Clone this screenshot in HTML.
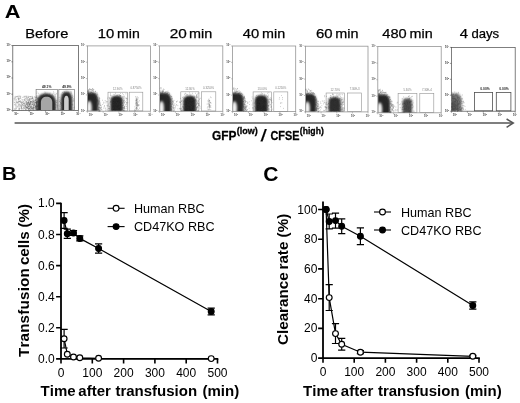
<!DOCTYPE html>
<html><head><meta charset="utf-8"><title>Figure</title>
<style>
html,body{margin:0;padding:0;background:#fff;}
body{width:520px;height:403px;overflow:hidden;}
svg{display:block;}
.s{font-family:"Liberation Sans",sans-serif;font-kerning:none;}
</style></head><body>
<svg width="520" height="403" viewBox="0 0 520 403">
<defs>
<clipPath id="cp0"><rect x="13.2" y="45.6" width="65.6" height="64.4"/></clipPath><clipPath id="cp1"><rect x="87.8" y="45.9" width="63" height="64.9"/></clipPath><clipPath id="cp2"><rect x="160" y="45.9" width="63.2" height="65"/></clipPath><clipPath id="cp3"><rect x="233" y="46" width="63.1" height="65.2"/></clipPath><clipPath id="cp4"><rect x="305.9" y="46.2" width="62.5" height="65.3"/></clipPath><clipPath id="cp5"><rect x="378.2" y="46.5" width="63.4" height="65.9"/></clipPath><clipPath id="cp6"><rect x="451.8" y="47.4" width="63.8" height="63.4"/></clipPath>
<filter id="b1" x="-5%" y="-5%" width="110%" height="110%"><feGaussianBlur stdDeviation="0.3"/></filter>
<filter id="b2" x="-20%" y="-20%" width="140%" height="140%"><feGaussianBlur stdDeviation="0.7"/></filter>
<filter id="b3" x="-30%" y="-30%" width="160%" height="160%"><feGaussianBlur stdDeviation="0.9"/></filter>
<filter id="b4" x="-50%" y="-50%" width="200%" height="200%"><feGaussianBlur stdDeviation="1.15"/></filter>
</defs>
<rect width="520" height="403" fill="#fff"/>
<g id="panelA">
<text x="4.86" y="17.8" font-size="18.4" font-weight="700" class="s" textLength="15.72" lengthAdjust="spacingAndGlyphs">A</text>
<text y="37.5" font-size="13.2" class="s" stroke="#000" stroke-width=".25"><tspan x="25.3" textLength="43.05" lengthAdjust="spacingAndGlyphs">Before</tspan></text>
<text y="37.5" font-size="13.2" class="s" stroke="#000" stroke-width=".25"><tspan x="97.77" textLength="16.51" lengthAdjust="spacingAndGlyphs">10</tspan><tspan x="117.07" textLength="22.65" lengthAdjust="spacingAndGlyphs">min</tspan></text>
<text y="37.5" font-size="13.2" class="s" stroke="#000" stroke-width=".25"><tspan x="169.73" textLength="17.07" lengthAdjust="spacingAndGlyphs">20</tspan><tspan x="189.04" textLength="23.19" lengthAdjust="spacingAndGlyphs">min</tspan></text>
<text y="37.5" font-size="13.2" class="s" stroke="#000" stroke-width=".25"><tspan x="242.86" textLength="16.42" lengthAdjust="spacingAndGlyphs">40</tspan><tspan x="262.05" textLength="23.08" lengthAdjust="spacingAndGlyphs">min</tspan></text>
<text y="37.5" font-size="13.2" class="s" stroke="#000" stroke-width=".25"><tspan x="315.94" textLength="16.64" lengthAdjust="spacingAndGlyphs">60</tspan><tspan x="335.24" textLength="23.19" lengthAdjust="spacingAndGlyphs">min</tspan></text>
<text y="37.5" font-size="13.2" class="s" stroke="#000" stroke-width=".25"><tspan x="382.26" textLength="24.41" lengthAdjust="spacingAndGlyphs">480</tspan><tspan x="409.55" textLength="23.08" lengthAdjust="spacingAndGlyphs">min</tspan></text>
<text y="37.5" font-size="13.2" class="s" stroke="#000" stroke-width=".25"><tspan x="459.66" textLength="8.28" lengthAdjust="spacingAndGlyphs">4</tspan><tspan x="471.45" textLength="27.73" lengthAdjust="spacingAndGlyphs">days</tspan></text>
<rect x="12.8" y="45.6" width="65.6" height="64.8" fill="none" stroke="#505050" stroke-width=".75"/>
<g font-size="2.7" font-weight="700" class="s" fill="#333" text-anchor="middle" filter="url(#b1)"><text x="8.5" y="46">10<tspan dy="-1" font-size="2">4</tspan></text><text x="8.5" y="62.2">10<tspan dy="-1" font-size="2">3</tspan></text><text x="8.5" y="78.4">10<tspan dy="-1" font-size="2">2</tspan></text><text x="8.5" y="94.6">10<tspan dy="-1" font-size="2">1</tspan></text><text x="8.5" y="110.8">10<tspan dy="-1" font-size="2">0</tspan></text><text x="16.2" y="115">10<tspan dy="-1" font-size="2">0</tspan></text><text x="31.7" y="115">10<tspan dy="-1" font-size="2">1</tspan></text><text x="47.2" y="115">10<tspan dy="-1" font-size="2">2</tspan></text><text x="62.7" y="115">10<tspan dy="-1" font-size="2">3</tspan></text><text x="78.2" y="115">10<tspan dy="-1" font-size="2">4</tspan></text></g>
<path d="M12.8 45.6h-1.5M12.8 110.4v1.5M12.8 61.8h-1.5M29.2 110.4v1.5M12.8 78h-1.5M45.6 110.4v1.5M12.8 94.2h-1.5M62 110.4v1.5M12.8 110.4h-1.5M78.4 110.4v1.5" stroke="#505050" stroke-width=".6" fill="none"/>
<rect x="87.4" y="45.9" width="63" height="65.3" fill="none" stroke="#949494" stroke-width=".8"/>
<g font-size="2.7" font-weight="700" class="s" fill="#4a4a4a" text-anchor="middle" filter="url(#b1)"><text x="83.1" y="46.3">10<tspan dy="-1" font-size="2">4</tspan></text><text x="83.1" y="62.6">10<tspan dy="-1" font-size="2">3</tspan></text><text x="83.1" y="79">10<tspan dy="-1" font-size="2">2</tspan></text><text x="83.1" y="95.3">10<tspan dy="-1" font-size="2">1</tspan></text><text x="83.1" y="111.6">10<tspan dy="-1" font-size="2">0</tspan></text><text x="90.8" y="115.8">10<tspan dy="-1" font-size="2">0</tspan></text><text x="105.7" y="115.8">10<tspan dy="-1" font-size="2">1</tspan></text><text x="120.5" y="115.8">10<tspan dy="-1" font-size="2">2</tspan></text><text x="135.4" y="115.8">10<tspan dy="-1" font-size="2">3</tspan></text><text x="150.2" y="115.8">10<tspan dy="-1" font-size="2">4</tspan></text></g>
<path d="M87.4 45.9h-1.5M87.4 111.2v1.5M87.4 62.2h-1.5M103.2 111.2v1.5M87.4 78.6h-1.5M118.9 111.2v1.5M87.4 94.9h-1.5M134.7 111.2v1.5M87.4 111.2h-1.5M150.4 111.2v1.5" stroke="#949494" stroke-width=".6" fill="none"/>
<rect x="159.6" y="45.9" width="63.2" height="65.4" fill="none" stroke="#949494" stroke-width=".8"/>
<g font-size="2.7" font-weight="700" class="s" fill="#4a4a4a" text-anchor="middle" filter="url(#b1)"><text x="155.3" y="46.3">10<tspan dy="-1" font-size="2">4</tspan></text><text x="155.3" y="62.6">10<tspan dy="-1" font-size="2">3</tspan></text><text x="155.3" y="79">10<tspan dy="-1" font-size="2">2</tspan></text><text x="155.3" y="95.4">10<tspan dy="-1" font-size="2">1</tspan></text><text x="155.3" y="111.7">10<tspan dy="-1" font-size="2">0</tspan></text><text x="163" y="115.9">10<tspan dy="-1" font-size="2">0</tspan></text><text x="177.9" y="115.9">10<tspan dy="-1" font-size="2">1</tspan></text><text x="192.8" y="115.9">10<tspan dy="-1" font-size="2">2</tspan></text><text x="207.7" y="115.9">10<tspan dy="-1" font-size="2">3</tspan></text><text x="222.6" y="115.9">10<tspan dy="-1" font-size="2">4</tspan></text></g>
<path d="M159.6 45.9h-1.5M159.6 111.3v1.5M159.6 62.2h-1.5M175.4 111.3v1.5M159.6 78.6h-1.5M191.2 111.3v1.5M159.6 95h-1.5M207 111.3v1.5M159.6 111.3h-1.5M222.8 111.3v1.5" stroke="#949494" stroke-width=".6" fill="none"/>
<rect x="232.6" y="46" width="63.1" height="65.6" fill="none" stroke="#949494" stroke-width=".8"/>
<g font-size="2.7" font-weight="700" class="s" fill="#4a4a4a" text-anchor="middle" filter="url(#b1)"><text x="228.3" y="46.4">10<tspan dy="-1" font-size="2">4</tspan></text><text x="228.3" y="62.8">10<tspan dy="-1" font-size="2">3</tspan></text><text x="228.3" y="79.2">10<tspan dy="-1" font-size="2">2</tspan></text><text x="228.3" y="95.6">10<tspan dy="-1" font-size="2">1</tspan></text><text x="228.3" y="112">10<tspan dy="-1" font-size="2">0</tspan></text><text x="236" y="116.2">10<tspan dy="-1" font-size="2">0</tspan></text><text x="250.9" y="116.2">10<tspan dy="-1" font-size="2">1</tspan></text><text x="265.8" y="116.2">10<tspan dy="-1" font-size="2">2</tspan></text><text x="280.6" y="116.2">10<tspan dy="-1" font-size="2">3</tspan></text><text x="295.5" y="116.2">10<tspan dy="-1" font-size="2">4</tspan></text></g>
<path d="M232.6 46h-1.5M232.6 111.6v1.5M232.6 62.4h-1.5M248.4 111.6v1.5M232.6 78.8h-1.5M264.1 111.6v1.5M232.6 95.2h-1.5M279.9 111.6v1.5M232.6 111.6h-1.5M295.7 111.6v1.5" stroke="#949494" stroke-width=".6" fill="none"/>
<rect x="305.5" y="46.2" width="62.5" height="65.7" fill="none" stroke="#949494" stroke-width=".8"/>
<g font-size="2.7" font-weight="700" class="s" fill="#4a4a4a" text-anchor="middle" filter="url(#b1)"><text x="301.2" y="46.6">10<tspan dy="-1" font-size="2">4</tspan></text><text x="301.2" y="63">10<tspan dy="-1" font-size="2">3</tspan></text><text x="301.2" y="79.5">10<tspan dy="-1" font-size="2">2</tspan></text><text x="301.2" y="95.9">10<tspan dy="-1" font-size="2">1</tspan></text><text x="301.2" y="112.3">10<tspan dy="-1" font-size="2">0</tspan></text><text x="308.9" y="116.5">10<tspan dy="-1" font-size="2">0</tspan></text><text x="323.6" y="116.5">10<tspan dy="-1" font-size="2">1</tspan></text><text x="338.3" y="116.5">10<tspan dy="-1" font-size="2">2</tspan></text><text x="353.1" y="116.5">10<tspan dy="-1" font-size="2">3</tspan></text><text x="367.8" y="116.5">10<tspan dy="-1" font-size="2">4</tspan></text></g>
<path d="M305.5 46.2h-1.5M305.5 111.9v1.5M305.5 62.6h-1.5M321.1 111.9v1.5M305.5 79.1h-1.5M336.8 111.9v1.5M305.5 95.5h-1.5M352.4 111.9v1.5M305.5 111.9h-1.5M368 111.9v1.5" stroke="#949494" stroke-width=".6" fill="none"/>
<rect x="377.8" y="46.5" width="63.4" height="66.3" fill="none" stroke="#949494" stroke-width=".8"/>
<g font-size="2.7" font-weight="700" class="s" fill="#4a4a4a" text-anchor="middle" filter="url(#b1)"><text x="373.5" y="46.9">10<tspan dy="-1" font-size="2">4</tspan></text><text x="373.5" y="63.5">10<tspan dy="-1" font-size="2">3</tspan></text><text x="373.5" y="80">10<tspan dy="-1" font-size="2">2</tspan></text><text x="373.5" y="96.6">10<tspan dy="-1" font-size="2">1</tspan></text><text x="373.5" y="113.2">10<tspan dy="-1" font-size="2">0</tspan></text><text x="381.2" y="117.4">10<tspan dy="-1" font-size="2">0</tspan></text><text x="396.1" y="117.4">10<tspan dy="-1" font-size="2">1</tspan></text><text x="411.1" y="117.4">10<tspan dy="-1" font-size="2">2</tspan></text><text x="426" y="117.4">10<tspan dy="-1" font-size="2">3</tspan></text><text x="441" y="117.4">10<tspan dy="-1" font-size="2">4</tspan></text></g>
<path d="M377.8 46.5h-1.5M377.8 112.8v1.5M377.8 63.1h-1.5M393.6 112.8v1.5M377.8 79.7h-1.5M409.5 112.8v1.5M377.8 96.2h-1.5M425.4 112.8v1.5M377.8 112.8h-1.5M441.2 112.8v1.5" stroke="#949494" stroke-width=".6" fill="none"/>
<rect x="451.4" y="47.4" width="63.8" height="63.8" fill="none" stroke="#555" stroke-width=".75"/>
<g font-size="2.7" font-weight="700" class="s" fill="#333" text-anchor="middle" filter="url(#b1)"><text x="447.1" y="47.8">10<tspan dy="-1" font-size="2">4</tspan></text><text x="447.1" y="63.8">10<tspan dy="-1" font-size="2">3</tspan></text><text x="447.1" y="79.7">10<tspan dy="-1" font-size="2">2</tspan></text><text x="447.1" y="95.6">10<tspan dy="-1" font-size="2">1</tspan></text><text x="447.1" y="111.6">10<tspan dy="-1" font-size="2">0</tspan></text><text x="454.8" y="115.8">10<tspan dy="-1" font-size="2">0</tspan></text><text x="469.8" y="115.8">10<tspan dy="-1" font-size="2">1</tspan></text><text x="484.9" y="115.8">10<tspan dy="-1" font-size="2">2</tspan></text><text x="499.9" y="115.8">10<tspan dy="-1" font-size="2">3</tspan></text><text x="515" y="115.8">10<tspan dy="-1" font-size="2">4</tspan></text></g>
<path d="M451.4 47.4h-1.5M451.4 111.2v1.5M451.4 63.4h-1.5M467.4 111.2v1.5M451.4 79.3h-1.5M483.3 111.2v1.5M451.4 95.2h-1.5M499.2 111.2v1.5M451.4 111.2h-1.5M515.2 111.2v1.5" stroke="#555" stroke-width=".6" fill="none"/>
<g filter="url(#b1)">
<rect x="36.1" y="89.5" width="21.3" height="20.7" fill="none" stroke="#7c7c7c" stroke-width=".7"/>
<rect x="58.8" y="89.5" width="15.7" height="20.7" fill="none" stroke="#7c7c7c" stroke-width=".7"/>
<path d="M24.2 103.8h.6M35.2 102.5h.6M25.5 104.2h.6M17.9 103.2h.6M28.3 107.1h.6M15.8 100.2h.6M15.7 107.3h.6M29.8 96.6h.6M36.6 109.5h.6M28.9 104.6h.6M17.3 96.2h.6M26 96.8h.6M18.1 99.4h.6M14.3 102.5h.6M23.9 107.8h.6M25.7 105h.6M25.3 105.3h.6M24.3 99.9h.6M36.9 109.9h.6M33.3 105.9h.6M21 99.2h.6M20.4 97h.6M31.5 101.6h.6M33.4 101.4h.6M36 107.9h.6M13.6 98.9h.6M34.9 102.6h.6M36.5 101.6h.6M15.3 104.8h.6M31.8 99.8h.6M15.6 100.7h.6M36.2 106.6h.6M16.4 99.4h.6M16 96.8h.6M32.3 98.5h.6M26.7 102.3h.6M18.1 106.2h.6M16.7 105h.6M16.3 101.9h.6M18.6 99.8h.6M36.3 107.2h.6M20.7 108.4h.6M18.5 101.5h.6M33.6 105h.6M15.9 109.9h.6M18.6 99.6h.6M31.7 100.6h.6M20.5 97h.6M15.7 104.2h.6M19.3 104.4h.6M22.3 102.3h.6M36 102.8h.6M27 108.1h.6M17.9 98.2h.6M34.9 107.4h.6M19.4 98.7h.6M30.9 109.2h.6M18.2 109.3h.6M34.2 104.4h.6M23.5 97.5h.6M14.5 109.5h.6M19.2 105.9h.6M19.6 107.5h.6M27.6 100.1h.6M17.7 106.1h.6M15.2 99.2h.6M26.7 107.9h.6M28 99.9h.6M35.1 98.9h.6M14 99.8h.6M24 96.8h.6M17.7 101.2h.6M27 97.8h.6M22.1 108.5h.6M36.5 105.2h.6M29.8 104.2h.6M16.9 96.5h.6M14 108.7h.6M30 109.5h.6M14.1 104.9h.6M24.9 106.2h.6M21.1 110h.6M15.4 103.6h.6M30.8 108.6h.6M30.8 105.9h.6M32.2 108.8h.6M21.8 105.6h.6M34.7 108.2h.6M23.4 107.1h.6M33.8 104h.6M28.2 101.4h.6M27.2 104.5h.6M15.5 105h.6M36.8 108.3h.6M30.6 101.4h.6M30.8 104.1h.6M23.9 107.7h.6M15.6 106.5h.6M14.3 104.4h.6M24.9 99.2h.6M29.9 103h.6M28 108.9h.6M19.6 96.2h.6M20.6 105.5h.6M18.3 98.4h.6M34.8 105.2h.6M23.9 108.5h.6M21.3 105.3h.6M18.2 102h.6M32.5 108.8h.6M34.2 101.4h.6M27.2 100.4h.6M16.8 103h.6M33.2 107.9h.6M30.2 109.3h.6M20.1 98.4h.6M24.1 99.9h.6M18.6 101.8h.6M28.2 102.9h.6M21 107.7h.6M36.6 102.3h.6M15.3 96.4h.6M34 96.6h.6M30.2 104h.6M20.8 107.1h.6M14 97.9h.6M24.2 96.3h.6M33 99.3h.6M16.9 96.7h.6M28.3 102.3h.6M28.3 105.2h.6M32.5 109.4h.6M29.6 98.8h.6M24.7 98.5h.6M13.9 102.6h.6M30.3 98.5h.6M20 100.8h.6M29.9 103.3h.6M28 106.6h.6M22.8 107.1h.6M34.8 97.2h.6M35.4 106.1h.6M16.6 102.3h.6M28.2 108.7h.6M22.4 104h.6M34.2 107.2h.6M35.7 102.5h.6M28.8 98.9h.6M30.5 107.5h.6M28.6 106h.6M18.6 108.6h.6M36.5 109.7h.6M26.2 107.1h.6M21.1 108.7h.6M33.6 100.9h.6M15.5 102.2h.6M26.5 106.8h.6M25 96.4h.6M32.5 96.9h.6M32.3 98.4h.6M21.4 107h.6M16.9 98.1h.6M25.7 106.1h.6M33.3 105.7h.6M35.7 102.9h.6M35.8 97.2h.6M18.8 103.4h.6M20.4 106.2h.6M28.5 103.3h.6M33.3 103.8h.6M20.9 101.3h.6M33.4 108.6h.6M18.5 107.9h.6M36.3 103.3h.6M27 98.8h.6M26.1 103h.6M27.8 96.4h.6M36.3 103.2h.6M23 107.2h.6M26.8 102.9h.6M29.8 96.9h.6M26.2 101.8h.6M36 108.9h.6M19.9 102.6h.6M16.6 102.1h.6M32.7 108.6h.6M24.8 100.4h.6M18.1 104.7h.6M35.3 97.8h.6M31.8 96.3h.6M18.1 99.2h.6M29.7 100.5h.6M21.9 104.7h.6M16.1 106.2h.6M16.5 103.1h.6M19.5 98.8h.6M26 102.1h.6M22.4 101.8h.6M26 98.2h.6M18.4 104.8h.6M28.5 103.4h.6M33.5 104.6h.6M33.6 99.3h.6M30.9 107.3h.6M34.7 100.4h.6M21 108.9h.6M18.7 110h.6M34.4 97.9h.6M19.2 106.2h.6M19.7 97.4h.6M33.1 101.9h.6M32.1 97.8h.6M23 105.6h.6M14 98.8h.6M29.6 108.8h.6M36.3 97.6h.6M25.4 106.6h.6M25.4 105.6h.6M18 97h.6M16.1 96.5h.6M26.5 103.2h.6M26.9 98.1h.6M17.9 98.9h.6M33.3 109.9h.6M35.3 97.3h.6M15 109.3h.6M24.4 106.7h.6M21.2 102.5h.6M25.7 102h.6M27.7 96.2h.6M30 107.8h.6M17.8 102.4h.6M30.9 101.7h.6M18.2 98.3h.6M25.6 96.2h.6M34.5 107.2h.6M30.1 108.1h.6M28.3 101.7h.6M27.6 103.1h.6M36.6 107.3h.6M19.6 108.8h.6M31 106.9h.6M32.7 101.7h.6M34.6 108.3h.6M29.9 106.7h.6M31.5 101.7h.6M30.5 97h.6M21.6 102.6h.6M13.8 101h.6M28.5 104.7h.6M19 109.2h.6M29.2 100.7h.6M29 104h.6M26.1 101.5h.6M37 105h.6M30 106.7h.6M36.5 96.3h.6M28 106.3h.6M19.6 101.6h.6M14.8 98.7h.6M22.4 97.4h.6M19.5 108.7h.6M26.5 103.1h.6M36.2 104h.6M36.9 104.9h.6M32.5 97.1h.6M27.6 106.6h.6M14.7 109h.6M17.3 102.6h.6M17.6 102.9h.6M27.9 96.8h.6M35.7 101.9h.6M25.9 104.4h.6M22.2 100h.6M28.9 103.8h.6M20.2 106h.6M20.5 96.2h.6M19.3 96.6h.6M17.3 106.6h.6M22.7 108.6h.6M31.1 96.7h.6M36.7 109.2h.6M15.3 108.7h.6M23.7 102.7h.6M36.4 99.4h.6M25.8 109.1h.6M30.5 102.6h.6M36.5 107.4h.6M27.7 97.6h.6M28.2 102.4h.6M18.4 96.7h.6M26 97.7h.6M24 105.4h.6M24.3 99.7h.6M27.2 101.9h.6M31.8 103.4h.6M36.9 109.3h.6M30.8 99.3h.6M16.3 108.5h.6M32 104.7h.6M22 99.8h.6M29.6 103.9h.6M27.4 104.9h.6M31.2 98.7h.6M19.4 109.7h.6M35 108.3h.6M14.5 96.9h.6M19.9 102h.6M28.2 97.4h.6M26.3 97h.6M15.6 105.5h.6M26.5 104.8h.6M22.3 102.7h.6M18.5 100.8h.6M31 107.7h.6M15.3 97.7h.6M32.5 104.7h.6M31.6 99h.6M23.5 99.6h.6M32.6 101.2h.6M28.9 109.8h.6M21.2 103.7h.6M31.1 108.9h.6M23.6 101.2h.6M15.9 108.3h.6M15.4 97.2h.6M26.8 102.8h.6M29.6 100.2h.6M31.7 97.1h.6M18.6 105.3h.6M35.4 106.7h.6M29.6 98.9h.6M30.3 107.2h.6M29 106.5h.6M29 100h.6M36.5 102.8h.6M32.7 101.8h.6M28.5 108.7h.6M31.1 108.8h.6M27.2 107.8h.6M26.3 107.4h.6M33.6 109.8h.6M33.2 100.2h.6M35 100.6h.6M34.6 102.8h.6M23.5 103.6h.6M31.7 103.6h.6M20.9 103h.6M33.1 105.8h.6M30 96.5h.6M28.3 102.6h.6M20.9 104.1h.6M26.7 107.2h.6M23.6 105.2h.6M29.3 98.8h.6M36.3 102.9h.6M35.1 99.7h.6M37.6 99.2h.6M37.3 97.8h.6M21.7 104.1h.6M33 101h.6M28 106.1h.6M28.4 106.7h.6M32.8 109h.6M35.8 106.2h.6M37.5 108.8h.6M31.6 102.5h.6M37.1 106.7h.6M19.6 100.6h.6M33.8 105.4h.6M32.7 107.6h.6M27.5 103.4h.6M32.9 108h.6M28.1 109.7h.6M33.8 100.8h.6M35.7 103.1h.6M16.6 102.1h.6M26.8 105.3h.6M32.9 101.3h.6M23.9 104.2h.6M28.6 102.5h.6M37.8 105.3h.6M29.1 99.7h.6M32.9 107h.6M29 107.8h.6M35.9 101.5h.6M18.7 95.4h.6M30.2 109.9h.6M37.3 98.9h.6M35.1 106.6h.6M30.4 103.2h.6M24.3 105.6h.6M34.2 102.3h.6M32.5 101h.6M33.3 104.1h.6M32.9 102.6h.6M23.9 103.7h.6M29.1 108.2h.6M35.6 106.6h.6M21.7 106.3h.6M25.2 109.7h.6M35.7 107.5h.6M15.8 107.5h.6M35.2 99.9h.6M36.8 105.3h.6M29.9 102.1h.6M24.9 103.3h.6M32.2 102.4h.6M27.3 102.8h.6M25.7 108.5h.6M29.4 108.5h.6M24.1 108.7h.6M30.8 107.7h.6M30.4 101.4h.6M30.1 101.5h.6M32.2 103.4h.6M32.7 106.4h.6M26.9 99.4h.6M33.6 108.7h.6M35.2 100.4h.6M34.6 106.5h.6M32.7 106.7h.6M29.1 105.9h.6M36.6 103h.6M22.4 104.6h.6M32.2 97.6h.6M26.9 107.4h.6M30.1 105.4h.6M23.4 108.6h.6M26.6 100.4h.6M36.3 105.4h.6M26.2 109.9h.6M35.6 107.4h.6M20.4 104.6h.6M34.8 100.1h.6M37.2 102.1h.6M26.8 108.8h.6M37 109.9h.6M28.5 97.6h.6M28.2 103.1h.6M34.9 106.5h.6M22.8 102.1h.6M26.7 108.4h.6M23.6 103.6h.6M26.6 103.8h.6M34.3 100.1h.6M32.9 102.8h.6M28.7 104.5h.6M34.7 105.5h.6M28.2 102.1h.6M26.3 99.2h.6M25.1 108.6h.6M31.4 104.3h.6M33.1 109.3h.6M34.7 108.1h.6M27.6 104h.6M26.3 104.6h.6M26.1 103.5h.6M30 104.1h.6M29.4 103h.6M24.9 105.8h.6M24.5 100.7h.6M31.5 98.3h.6M37.2 98.3h.6M25.6 107.3h.6M19.1 101.5h.6M23.8 104.2h.6M19.2 108.6h.6M30.1 106.2h.6M29 96.5h.6M30.1 99.6h.6M31.1 101.6h.6M29.1 104.2h.6M35.6 108.1h.6M25 104.9h.6M26.6 104.5h.6M28.9 108.8h.6M31.2 106.5h.6M24.9 98.1h.6M21.4 108.4h.6M19.2 101.5h.6M36.3 108.5h.6M31.2 105h.6M31.2 108.4h.6M30 106.3h.6M26.5 107.3h.6M29.4 104.4h.6M28.5 109.4h.6M27 105.5h.6M34.2 103.4h.6M33.9 101.8h.6M27.4 105.4h.6M33.7 105.6h.6M30.2 101.6h.6M30.3 102.9h.6M26.3 96.1h.6M28.7 105.5h.6M31.9 108.4h.6M30 102.4h.6M32.8 107.7h.6M25.6 98.9h.6M24.8 109.2h.6M37 101.5h.6M31.7 108.4h.6M24.2 106.8h.6M29.2 104.8h.6M27 103.1h.6M35.2 106.7h.6M31.2 102h.6M29.6 110h.6M32.6 104.9h.6M21.3 106.6h.6M27.2 105h.6M22.9 103h.6M25.4 109.5h.6M32.5 100.3h.6M19.4 104.7h.6M28.1 100.6h.6M34.5 104.3h.6M31.7 102.6h.6M27.6 103.2h.6M21.4 107.5h.6M33.4 98.1h.6M31.6 109.6h.6M29.4 105h.6M23.2 101.4h.6M20.1 101.4h.6M32.5 107.1h.6M38 105.5h.6M25.1 106.7h.6M24.2 102.9h.6M32.1 102.2h.6M34.1 107.7h.6M36 105.9h.6M25.7 101.6h.6M33.2 107.7h.6M36.1 98.9h.6M36.7 106.5h.6M28.2 107.1h.6M32.7 104.8h.6M20.9 105.4h.6M34.3 104.8h.6M21.5 106.8h.6M35.3 105.7h.6M33.6 103.6h.6M27.1 107.1h.6M28.9 105.7h.6M31.8 98.5h.6M31.6 108h.6M26.8 104h.6M17.5 107.2h.6M27.4 107.7h.6M36.9 106h.6M29.8 103.9h.6M36.3 101h.6M36.1 102.1h.6M22 109.8h.6M23.3 109.7h.6M32.2 108.6h.6M34.1 109.6h.6M33.1 107.3h.6M32.5 109.4h.6M28.7 109.1h.6M33.6 102.9h.6M29.3 106h.6M28.9 101.5h.6M30.8 105.8h.6M32.9 107.8h.6M30 101.9h.6M28.8 106.8h.6M36.2 103.5h.6M31.9 98.6h.6M32 104.6h.6M28.4 108.5h.6M29 104.8h.6M27.5 106.8h.6M34.3 105.6h.6M29.7 104.4h.6M28.6 108.9h.6M27.9 104.4h.6M29.7 102h.6M29.6 99.1h.6M33.4 107.2h.6M26.1 107.2h.6M33.9 102.9h.6M29.6 108.6h.6M31.4 106.1h.6M21 102.1h.6M36 104.5h.6M24.6 97.1h.6M23.5 96.4h.6M34 102.8h.6M29.2 103.7h.6M25.6 106.8h.6M36.5 106.5h.6M27.7 109.1h.6M30.3 107.3h.6M25.4 107.6h.6M31.2 106.8h.6M27.6 108.5h.6M35.6 109.3h.6M28.7 100.2h.6M30.6 104.2h.6M26.6 107.4h.6M36.6 106.6h.6M37.6 106.6h.6M25.2 102.7h.6M28.9 107.7h.6M36.5 105.5h.6M37 101.8h.6M33.6 109.1h.6M19.8 98.4h.6M25.9 109h.6M25.2 101h.6M25.7 107.2h.6M35.3 102.3h.6M32.4 104.4h.6M35.7 108.6h.6M29 108.5h.6M34.4 104.7h.6M32.5 107.7h.6M29.1 102.4h.6M27.5 106.8h.6M22.3 105.2h.6M23 103.3h.6M20.5 102.2h.6M36.3 104.3h.6M27.9 99.3h.6M35.5 109.7h.6M23.3 105.3h.6" stroke="#444" stroke-width=".6" fill="none" opacity=".55"/>
</g>
<path d="M41.8 108.2h.6M46.2 95.3h.6M46.8 109.3h.6M44 107.9h.6M42.2 103.7h.6M49.1 105h.6M53 109h.6M47.6 96.1h.6M48.1 102.3h.6M48.6 97.3h.6M45 98.8h.6M44.8 97.9h.6M54.6 93h.6M38.7 101h.6M43.3 94.6h.6M53.3 93h.6M51.8 108.8h.6M43.5 99.6h.6M46.8 105.1h.6M50.5 103.3h.6M43.1 97.3h.6M40.8 98.8h.6M48 105.4h.6M50.3 103.9h.6M45.4 105.4h.6M37.4 101.9h.6M41.5 108.3h.6M36.2 96h.6M54.2 103.2h.6M42.8 95.7h.6M47.7 100.2h.6M48 107h.6M51.9 101.8h.6M42.3 104.3h.6M45.6 105.2h.6M42.2 102.4h.6M41.8 100h.6M42.2 108.1h.6M49.1 104.8h.6M51.7 100.2h.6M50.8 106.1h.6M38.1 104.7h.6M49.1 97.4h.6M55.8 107.1h.6M40.1 95.8h.6M45.5 99.7h.6M51.1 104.7h.6M48.6 105.9h.6M51.8 104.3h.6M47.5 103.7h.6M49.7 93h.6M52.7 93.4h.6M50 103.7h.6M54 101.8h.6M44.6 98.9h.6M47.8 103.2h.6M41.2 101.7h.6M40.4 108.3h.6M38.2 93.3h.6M42.4 108.5h.6M52.1 100.5h.6M52.3 107.5h.6M46 99.2h.6M45.9 95.2h.6M44.2 100h.6M49.8 106.4h.6M41.3 110h.6M55.7 104.5h.6M40.5 107.5h.6M44.9 99.8h.6M53 102h.6M49.4 110h.6M50.8 103.7h.6M41.1 98.9h.6M42.9 100.2h.6M53.3 96.3h.6M43.1 96.9h.6M42.1 97.7h.6M42 107.4h.6M37.9 98.6h.6M44.3 103.8h.6M40.2 98.5h.6M37.3 98.8h.6M50.5 102.3h.6M45.8 98h.6M40.5 104.3h.6M52.5 95.5h.6M49.1 96h.6M49.2 103.9h.6M54.9 96h.6M36.8 106.5h.6M49.8 100.5h.6M55.4 108h.6M48.4 96.1h.6M54.7 94.5h.6M47.6 100.2h.6M43.9 106.4h.6M53.5 105.5h.6M56.3 94h.6M50 107h.6M55.5 96.1h.6M45 104.5h.6M42.6 109.2h.6M41.9 99.9h.6M36.5 97.5h.6M48.1 107.3h.6M43.2 96.6h.6M49 106.5h.6M56.5 100.5h.6M43 107.6h.6M45.6 97.4h.6M38.9 108.2h.6M42.4 97.1h.6M53.5 101.2h.6M45.8 94.5h.6M43.5 104.8h.6M40.6 106.8h.6M43.5 99.4h.6M42.7 106h.6M51.1 100.7h.6M39.9 107.1h.6M53 91.7h.6M37.8 99.3h.6M52.8 107.5h.6M42.7 98.4h.6M57.5 105.4h.6M38.9 105.3h.6M39.5 105.3h.6M41.1 95.6h.6M54.3 103.7h.6M51.8 95.1h.6M54.4 107.2h.6M36.8 109.9h.6M51.3 109.5h.6M46.1 101.1h.6M36.9 96h.6M44.6 92h.6M52.9 109.4h.6M53.7 105h.6M36.7 102.1h.6M48.7 106.2h.6M39.6 103.6h.6M47.3 98.8h.6M44 105.2h.6M38 101.2h.6M48.5 101.4h.6M49 100.7h.6M55.9 102.4h.6M37.1 109.3h.6M45.3 104.5h.6M45.1 93h.6M50.1 104.6h.6M36.6 93.4h.6M54.3 106.1h.6M51.8 106.6h.6M36.8 92h.6M56.1 101h.6M41 107.6h.6M45.9 98.6h.6M40.6 109.5h.6M38.8 105h.6M38.4 107.2h.6M55.4 107.2h.6M38.6 101.9h.6M46.9 107.2h.6M41.5 108.4h.6M40.5 104.5h.6M46.3 95.9h.6M54.5 104.4h.6M47.2 103.8h.6M41.7 108.3h.6M38 98.1h.6M49.6 105h.6M46.2 109.6h.6M48.7 96.9h.6M51.5 98.5h.6M49.8 98.6h.6M49 94.3h.6M57 106.9h.6M45.2 102.9h.6M45.6 103.6h.6M45.6 96.7h.6M49 102.6h.6M48 96.6h.6M46.4 97.2h.6M38.2 106.4h.6M51.5 108.2h.6M46 101.3h.6M41.2 96.4h.6M49.3 106.3h.6M44.3 104.3h.6M39.2 106.8h.6M48.5 110.2h.6M50.1 109.6h.6M38.2 99.4h.6M38.3 109.9h.6M50.4 98.5h.6M38.4 100h.6M53.4 103.2h.6M44.4 99.2h.6M40.8 101.6h.6M53.7 99.8h.6M40.5 104.4h.6M46.4 100.7h.6M37.1 100.3h.6M44 107.5h.6M47.5 101h.6M47.5 99.2h.6M43.2 101.7h.6M47.3 94.8h.6M43.5 97.8h.6M45.4 98.6h.6M46.3 105.4h.6M40.3 102.8h.6M44.7 109.2h.6M52.5 109.9h.6M45.4 109.7h.6M49.6 101.1h.6M56.3 93.4h.6M38.6 98.4h.6M45.3 95.4h.6M47.3 98.6h.6M55.2 101.1h.6M39.5 101.4h.6M44.6 101.7h.6M49.3 102.1h.6M42.6 102.6h.6M53.2 103.6h.6M48.3 102.2h.6M44.8 101.7h.6M56.5 105.7h.6M54.9 94.3h.6M43.1 103.6h.6M41.3 103.2h.6M38.9 102.9h.6M41 104h.6M44 97h.6M43.1 104.3h.6M56.4 102.5h.6M50.8 108.4h.6M55.5 105h.6M37.9 97.7h.6M49.4 102.8h.6M50.1 104.7h.6M48.3 104.3h.6M52.2 94.6h.6M49.3 104h.6M50.4 97.8h.6M42.5 109.5h.6M39.2 103h.6M42.3 97.1h.6M48.4 107.6h.6M47.8 97.8h.6M48.6 108.7h.6M44 109.9h.6M44.5 93.6h.6M48.8 95.6h.6M58.3 109.6h.6M46.5 108.9h.6M41.1 108.8h.6M64 106.5h.6M68.5 92.2h.6M63 108h.6M58.8 97.6h.6M72.5 104.7h.6M64.8 105.8h.6M68.8 102h.6M69.5 102.5h.6M72.6 96.4h.6M71.8 101.6h.6M64.3 106.5h.6M69.3 105.9h.6M65.2 105.8h.6M65 108.2h.6M70.9 110h.6M59.4 101.7h.6M66.7 95.5h.6M68.3 103.1h.6M66.6 106.8h.6M71.9 100.2h.6M68.8 109.3h.6M62.1 101.6h.6M59.1 106.4h.6M69.6 97.6h.6M67.4 103.8h.6M66.6 96.9h.6M69.2 105.3h.6M66.5 105.4h.6M62.9 105h.6M70.8 104.6h.6M70.3 105.4h.6M62.4 99.4h.6M58.8 105.7h.6M64.1 110h.6M71.5 97.8h.6M60.4 108.3h.6M61.5 105.6h.6M69.6 101.4h.6M68.6 101.2h.6M65.4 108.2h.6M65.5 98.9h.6M63.5 101.9h.6M70.4 102.1h.6M73 110.1h.6M61 103.4h.6M72.5 104.1h.6M62.1 98.3h.6M71.6 108.4h.6M70.5 102.9h.6M64.1 105h.6M67.4 99.1h.6M70.8 93h.6M60.5 103.8h.6M60 104.5h.6M61.3 103.9h.6M67.4 108.6h.6M71.1 93.1h.6M62.4 92.5h.6M63.9 91.6h.6M67.3 99.9h.6M68 98.5h.6M72.6 105.2h.6M73.3 99.9h.6M73.6 108.1h.6M69.4 99.6h.6M64.2 101.5h.6M65.9 101.6h.6M72.4 95.2h.6M62.2 97.8h.6M62.4 108.3h.6M69.4 104.6h.6M67.3 99.2h.6M60.9 94.1h.6M64 96.1h.6M64.5 109.1h.6M70 100.9h.6M73.4 101.1h.6M64 108.9h.6M60 102.9h.6M60.2 102.2h.6M66.1 98.7h.6M67.8 105h.6M73.5 100.8h.6M61.5 107.7h.6M68.9 103.1h.6M58.7 108.4h.6M66.7 95.1h.6M69.6 100.9h.6M62.8 103.2h.6M66.4 101.6h.6M65.5 97.9h.6M67 93.9h.6M64.6 96.6h.6M63.9 105.4h.6M67.6 102.5h.6M70.1 106.4h.6M64.2 96.9h.6M70.1 109.3h.6M59.8 109.8h.6M63.1 95.2h.6M67.5 105.7h.6M65.2 104.2h.6M71 107.1h.6M63.7 104.6h.6M59 104.8h.6M69.6 108.1h.6M60.7 103.6h.6M64.7 96.6h.6M62.4 109.6h.6M61.7 105.8h.6M62.2 98.9h.6M60.3 106.2h.6M70.5 98.7h.6M59.6 110.1h.6M65.9 98.1h.6M61.7 95.4h.6M59 108h.6M71.8 104.8h.6M66.6 98.6h.6M63.3 100.8h.6M72.8 107.4h.6M70.7 92h.6M60.6 109.9h.6M64 92.5h.6M66.1 94.8h.6M59.9 100.7h.6M69.1 103.7h.6M67.1 97.9h.6M60 102.6h.6M72.4 97.6h.6M63.5 105.9h.6M61.5 99.2h.6M70.3 106.7h.6M63.2 94h.6M68.7 98h.6M65 103.6h.6M69 108.9h.6M66.2 108.4h.6M67.9 106h.6M68.6 93h.6M65.8 102.4h.6M70.7 91.4h.6M64.7 98h.6M68.9 100.6h.6M61.6 105h.6M59.5 99.9h.6M70 103.6h.6M73.2 98.7h.6M68.6 109.8h.6M65.2 99.3h.6M74.2 107.1h.6M59.3 101.5h.6M67.5 105.2h.6M68.5 105.2h.6M68.1 109h.6M62.1 94.6h.6M63.1 109.2h.6M66.2 109.8h.6M66.1 105.3h.6M65.9 107.4h.6" stroke="#333" stroke-width=".6" fill="none" opacity=".5" filter="url(#b1)"/>
<g clip-path="url(#cp0)">
<g filter="url(#b3)">
<path d="M36.8 113V102.8C36.8 96.6 40.6 93.2 46.4 93.2C52.2 93.2 56 96.6 56 102.8V113Z" fill="#2b2b2b"/>
<path d="M60.8 113V100.1C60.8 94.4 63.1 91.4 66.6 91.4C70.1 91.4 72.4 94.4 72.4 100.1V113Z" fill="#2b2b2b"/>
</g>
<g filter="url(#b2)">
<path d="M40.9 113V102.4C40.9 98.7 43.2 96.7 46.6 96.7C50 96.7 52.3 98.7 52.3 102.4V113Z" fill="#a6a6a6"/>
<path d="M64.1 113V100.4C64.1 97.4 65 95.8 66.4 95.8C67.8 95.8 68.7 97.4 68.7 100.4V113Z" fill="#cdcdcd"/>
</g>
</g>
<text x="42.0" y="87.9" font-size="3.3" font-weight="700" class="s" fill="#222" filter="url(#b1)">49.1%</text>
<text x="62.2" y="87.7" font-size="3.3" font-weight="700" class="s" fill="#222" filter="url(#b1)">49.9%</text>
<g filter="url(#b1)">
<rect x="108" y="92.2" width="19.3" height="18.7" fill="none" stroke="#929292" stroke-width=".6"/>
<rect x="129.2" y="92.2" width="13.6" height="18.7" fill="none" stroke="#929292" stroke-width=".6"/>
</g>
<g clip-path="url(#cp1)">
<g filter="url(#b3)">
<path d="M85.4 113.2V92.5H92.5C96.4 92.5 98.3 95.6 98.3 101.8V113.2Z" fill="#262626"/>
<path d="M110.5 113.2V100.4C110.5 97.4 112.9 95.8 116.6 95.8C120.3 95.8 122.7 97.4 122.7 100.4V113.2Z" fill="#222"/>
</g>
<ellipse cx="89.3" cy="108" rx="2.5" ry="7.2" fill="#f4f4f4" filter="url(#b4)"/>
</g>
<path d="M95.7 99.7h.6M90.7 89.7h.6M95.8 96.5h.6M98.1 101.3h.6M97.5 104.2h.6M97.3 103.3h.6M98.8 107.2h.6M99.5 98.4h.6M98.5 111.2h.6M98.9 101.3h.6M99.7 107.1h.6M95.3 99.3h.6M98.9 104.9h.6M87.4 92.8h.6M92 88.5h.6M94.1 96.9h.6M88.2 90.2h.6M100.8 105.4h.6M99.5 100.9h.6M99.8 111.1h.6M97.7 109.3h.6M99.6 105.1h.6M97 99.4h.6M98.7 100.9h.6M90 93.6h.6M98.9 110.1h.6M99.1 110.5h.6M96.2 100.5h.6M96.6 95h.6M95.7 100.1h.6M94.4 96.8h.6M96.7 100.3h.6M92 89h.6M96.9 100.5h.6M99.8 104.7h.6M87.8 93.5h.6M94.1 95.7h.6M93 93.1h.6M96.8 100.1h.6M87.7 93.5h.6M89.4 89.9h.6M94.9 96.7h.6M96.8 92.9h.6M95.7 97.6h.6M98.5 108.1h.6M97.6 109.6h.6M90.3 92.2h.6M94 95.6h.6M98.6 99.2h.6M94 94.7h.6M87.9 91.8h.6M89 88.8h.6M89.5 93.4h.6M99 104.1h.6M98.4 109.5h.6M92.8 89.3h.6M91.4 89.7h.6M90.6 91.9h.6M95.6 100.8h.6M99.3 108.1h.6M99 97.9h.6M94.1 97.4h.6M98 110h.6M92.1 90.8h.6M88.8 89.7h.6M97.6 100.4h.6M90.6 89.4h.6M87.6 93.3h.6M98.5 102.1h.6M94.4 95.3h.6M88.8 91.4h.6M97.2 104.8h.6M101.1 109.5h.6M95.8 101.3h.6M100.4 108.5h.6M95.6 100.4h.6M93.4 90.2h.6M94.1 96.8h.6M97.8 102.4h.6M91.8 90h.6M91.9 94.7h.6M94.5 98.4h.6M87.6 91.1h.6M98.6 110h.6M87.6 91.6h.6M98.9 111.1h.6M100 103h.6M92.7 95.3h.6M90.6 89.8h.6M93.9 96.6h.6M92.1 93.1h.6M92.1 92.9h.6M97.1 94.3h.6M100.3 105.5h.6M98.4 104.4h.6M88.3 91.7h.6M95.2 93.6h.6M97.5 101.7h.6M91.2 92.5h.6M100.3 107.5h.6M92.3 93.8h.6M93.6 94.2h.6M99.2 102.4h.6M98.1 107.8h.6M91.8 95.5h.6M98.8 102.8h.6M99 107.8h.6M96.6 102h.6M90.1 94h.6M88.1 90h.6M93.4 91.3h.6M96.5 100.5h.6M94.2 97.5h.6M98.5 103.1h.6M95.6 94.9h.6M98.9 103h.6M92.4 94.5h.6M98.3 100.2h.6M99.6 103.5h.6M99.9 105h.6M90.7 93h.6M87.9 90.4h.6M88.6 90.1h.6M97.6 105.9h.6M99.9 110.6h.6M96.7 102.2h.6M91 92h.6M98.3 103.3h.6M95.4 91.3h.6M96.1 99.8h.6M101.4 107.6h.6M97.9 109.8h.6M88.6 93.1h.6M99.1 110.2h.6M92.7 95.3h.6M91.8 90.5h.6M94.8 98.2h.6M88.7 92.2h.6M100.7 108.6h.6M92.9 93.4h.6M99.4 110.7h.6M96.2 102.6h.6M90.4 94.1h.6M96.2 96.3h.6M97.9 108.5h.6M98.9 98.2h.6M90.5 89.3h.6M94.6 94.6h.6M97 100.8h.6M95.2 91.7h.6M96.1 101.7h.6M99.3 107.8h.6M96.8 98.6h.6M97.6 106.5h.6M95.8 99.6h.6M95.6 100.3h.6M97.3 105.2h.6M97.9 107.5h.6M97 104h.6M95.4 99.6h.6M92.7 94.5h.6M93.9 93.9h.6M93 96.7h.6M98.7 101.7h.6M101.4 106.9h.6M92.8 95.7h.6M94.9 97.2h.6M89.3 89h.6M97.1 105.2h.6M94.3 98.2h.6M98.2 104.9h.6M87.7 91.2h.6M90.9 92.5h.6M88 93.8h.6M88.4 92.4h.6M98.9 109.6h.6M97.8 102.2h.6M97.5 97.5h.6M97.2 101.6h.6M97.1 99.7h.6M95.4 97.2h.6M98.8 100.1h.6M99.4 101.2h.6M99.1 111.2h.6M94 97.2h.6M96.2 102h.6M91.2 95.1h.6M92.7 89.3h.6M100.6 109.8h.6M98.3 103.5h.6M93.2 94.7h.6M93.6 89.5h.6M95.4 100.4h.6M99.2 99.7h.6M95.6 99.6h.6M96.9 100.8h.6M94.9 98.9h.6M97.5 106.6h.6M92.1 93.5h.6M99 107.1h.6M119.4 95.3h.6M114.8 110.3h.6M119.8 103.9h.6M124.6 108.8h.6M120.9 103.7h.6M120.3 110.7h.6M119.7 97.5h.6M117.2 103.1h.6M117.7 102.2h.6M121.9 107.4h.6M114.1 107.4h.6M119.1 106.7h.6M110.2 93.3h.6M110.3 95h.6M123.1 110.4h.6M112.3 100.1h.6M121.7 109.4h.6M123.8 108.5h.6M117.7 105.3h.6M120.2 102.8h.6M126.5 108.2h.6M117.6 101.9h.6M116.1 102.6h.6M115.8 104.2h.6M110.8 102.4h.6M122.3 102.4h.6M116 107.9h.6M117.7 99.2h.6M118.9 108.4h.6M109.4 110h.6M109.3 108.7h.6M111.3 106.1h.6M117.9 110.6h.6M117.8 102.3h.6M114.3 106h.6M116.9 109.8h.6M121.8 105.8h.6M117.8 108.4h.6M122.1 97.1h.6M120.2 102.7h.6M119.8 109.4h.6M108.3 104.1h.6M123.3 94.8h.6M119.3 104.8h.6M115.3 109.9h.6M122.9 104.9h.6M119.2 109.6h.6M122.4 108.8h.6M118.8 109h.6M126.3 104.4h.6M117.7 99.3h.6M115.6 101.6h.6M124.3 106.9h.6M107.8 105.7h.6M117 103.6h.6M120.5 95.6h.6M117.5 103.6h.6M122.1 102.8h.6M119 97.5h.6M111.8 105.2h.6M126.7 99.3h.6M120.3 109.5h.6M117.4 106.3h.6M117.8 104.9h.6M127.5 102.6h.6M116.3 105h.6M117.5 107.2h.6M112 108.1h.6M121.6 108.7h.6M110 101.4h.6M115 103.7h.6M122.4 93.7h.6M122.8 103.3h.6M120.2 95.7h.6M113.4 102.4h.6M124.2 107.8h.6M117.1 100.8h.6M119.7 95.7h.6M115.3 110.1h.6M119 102.3h.6M116.7 95.7h.6M105.6 108h.6M110.8 95.8h.6M119.9 110.3h.6M126.7 98.6h.6M126.5 103.3h.6M117.9 102.2h.6M113.1 108.4h.6M115.4 107.8h.6M123.7 108.2h.6M114.4 100.1h.6M119 106.2h.6M115.4 97.3h.6M111.9 104.9h.6M121.6 106.1h.6M119.3 99.8h.6M115.4 110.1h.6M123.6 108.9h.6M117 99.5h.6M117.5 99.3h.6M116.4 102.8h.6M113.7 100.5h.6M124.4 106.4h.6M120.8 101.2h.6M118.4 107.4h.6M124.6 108.4h.6M124.7 98h.6M109.1 98.4h.6M120.5 101h.6M125.1 101.8h.6M114.8 100.8h.6M122 107.5h.6M114 97.9h.6M118.3 104.6h.6M118.8 107.3h.6M109 106.8h.6M120.1 109.7h.6M119.4 100.1h.6M117.2 96.9h.6M117.4 103.5h.6M115.1 108h.6M125 104.7h.6M116.1 98.4h.6M114.4 100.7h.6M117.4 109.5h.6M120.3 106.2h.6M119.6 96.2h.6M117.9 100.8h.6M117.1 104.6h.6M116.8 104.5h.6M120.1 106.7h.6M114.8 110.1h.6M118.5 107h.6M120.4 107.6h.6M118.8 104h.6M120.6 100.5h.6M118.8 94.5h.6M116.5 98.9h.6M107.4 98.8h.6M117 104.1h.6M108.1 108.5h.6M116.6 98.3h.6M126.1 100.8h.6M118.5 104.2h.6M123.2 102.3h.6M118.6 104h.6M116.2 109.2h.6M120.2 96.6h.6M120.3 103.2h.6M116.9 110.4h.6M120.4 95.5h.6M109.7 102.9h.6M120.7 98.3h.6M113.7 94.4h.6M119.6 101.7h.6M126.1 106.4h.6M119.5 101.3h.6M123.3 96.8h.6M119.6 107.6h.6M114.1 97.9h.6M120.6 103.7h.6M116.1 97.7h.6M123 101.5h.6M114.9 106.9h.6M120.7 100.5h.6M119.3 103.9h.6M118.9 104h.6M116.5 105.8h.6M121.3 99h.6M118.5 103.2h.6M120.1 108.3h.6M118.6 103.5h.6M123.1 105.5h.6M120.5 101.4h.6M117.9 99.3h.6M118.9 96.2h.6M123.4 107.5h.6M113 107.7h.6M110.6 101.7h.6M113 108.7h.6M121.8 96.9h.6M119.1 107.7h.6M126 102.7h.6M110.7 104.6h.6M115.2 97.2h.6M111 108.5h.6M118.6 100.8h.6M115.4 108h.6M124 103.1h.6M120.2 93.5h.6M115.4 104.6h.6M116.6 106.4h.6M113.5 108.4h.6M115 104h.6M112.8 104.1h.6M112.8 104.9h.6M115 97.7h.6M123.9 106.7h.6M109.5 107h.6M126.4 102.6h.6M113.5 100h.6M124.5 110.8h.6M119.8 110.1h.6M114.6 102.4h.6M122.4 99.2h.6M119.2 104.5h.6M113.6 105.8h.6M111.4 100.9h.6M107.7 97.3h.6M113.4 106.7h.6M118.1 97.3h.6M118.4 107h.6M107 101.7h.6M124 96.3h.6M113.3 100.3h.6M117.3 108.1h.6M108.9 108.6h.6M120.1 97.8h.6M113.6 101.4h.6M126.3 98.6h.6M115.9 99.8h.6M117.9 98.6h.6M116 98.2h.6M110.1 95.1h.6M122.7 100.5h.6M111.8 110.7h.6M116.9 102.4h.6M113.9 104.4h.6M116.2 101.9h.6M116.9 108.9h.6M123 98.4h.6M112.8 96.9h.6M113.8 108.6h.6M116 101.5h.6M119.5 103.3h.6M121.3 102.6h.6M123 110.6h.6M116.2 107.7h.6M113.1 100.2h.6M112 103.1h.6M111.4 98h.6M116.6 95.8h.6M120.8 98.9h.6M116.5 102.5h.6M123.1 107.8h.6M116.5 100.9h.6M122.3 103.5h.6M112.3 105.1h.6M121.1 104.1h.6M115 108.8h.6M111.7 107.4h.6M124.4 110.2h.6M124 107.6h.6M108.9 108.8h.6M121.9 105.5h.6M123.1 104.2h.6M122 105.8h.6M114 110.1h.6M114.8 108h.6M112.3 105.7h.6M112.1 101.2h.6M117.7 98.3h.6M121.4 108h.6M113.4 107.7h.6M116 102.8h.6M115.6 106h.6M110 102.2h.6M125.6 93.8h.6M122.5 108.9h.6M115.6 99.8h.6M123.8 102.4h.6M119.4 103.1h.6M112 110.5h.6M121.3 98.9h.6M123.6 97.1h.6M111.1 109.4h.6M115.6 104.4h.6M126.2 98.1h.6M121.1 102h.6M118.3 103.1h.6M113.7 104.7h.6M113 104.5h.6M112.8 102.8h.6M118.5 96.2h.6M117.5 108.5h.6M118.5 109.8h.6M112.6 107.8h.6M117.8 109.5h.6M117.5 104.6h.6M117.1 103.5h.6M112.4 100.4h.6M117.7 105.7h.6M121.1 107.4h.6M117.4 95.2h.6M120 108.3h.6M112.3 101.6h.6M119.2 99.9h.6M124.1 100h.6M115.6 97.7h.6M118.9 104.3h.6M115.9 109.1h.6M116.4 102.2h.6M115.1 93.3h.6M119 105.2h.6M109.5 97.6h.6M112.2 102.6h.6M112.5 108.9h.6M124.1 100.6h.6M118 98.2h.6M124.7 98.1h.6M113.7 104.4h.6M116.8 103h.6M112.7 103.9h.6M114.6 101.9h.6M123 100.9h.6M120 100.7h.6M123.1 100h.6M112.8 103h.6M124.4 102h.6M113.3 103.5h.6M114.1 105.9h.6M114.3 106.2h.6M122.5 107.3h.6M125.7 106.2h.6M116.4 108.9h.6M114 103.2h.6M117.4 99.8h.6M119.4 103.9h.6M116.6 100.5h.6M115 100.4h.6M103.4 103.1h.6M103.7 107h.6M106.6 102.9h.6M104 106.2h.6M106.8 105.2h.6M106.7 109.9h.6M102.5 104.5h.6M107.7 106.3h.6M103.6 108.4h.6M104.3 105.6h.6M104.8 102.9h.6M102.2 100.3h.6M105.4 108.9h.6M105.5 110.4h.6M105.7 101.3h.6M101.7 109.9h.6M99.7 109.4h.6M106.1 101.7h.6M100.6 107.9h.6M104.8 100.5h.6M103.6 102.2h.6M106.7 105.8h.6M137.4 105.1h.6M138.6 105.4h.6M137.6 99.9h.6M138.8 104.9h.6M136.5 98.8h.6M137 107h.6M136.3 102.4h.6M135.9 106.1h.6M135.9 101.2h.6M136.6 100.5h.6M137.3 97.1h.6M136.9 109.9h.6M135.9 105.5h.6M137.2 102.5h.6M136.1 103.7h.6M139.1 100.8h.6M136.2 102.5h.6M135.8 100.3h.6M135.7 105.2h.6M135.1 100.1h.6M136.3 100.1h.6M135.6 103.5h.6M135.8 100.7h.6M136.6 101h.6M136.1 106h.6M137.1 105.5h.6M137.4 105.2h.6M139.2 108.2h.6M138 109.6h.6M135.9 107.4h.6M135.7 101.9h.6M136.9 104.9h.6M135.7 98.1h.6M137.2 104.6h.6M136.5 100.5h.6M135.6 104.3h.6M134.5 110.1h.6M136.4 109.5h.6M137.3 102h.6M136.9 99.5h.6M135.5 110.6h.6M135.8 101h.6M136.8 104.7h.6M137.3 98.7h.6M136.1 99.7h.6M136.4 103.3h.6M135.4 96.6h.6M135 108.8h.6M136 99.6h.6M136.5 99.4h.6M137.3 108.5h.6M136.4 101.9h.6M134.6 106.8h.6M138.4 105.5h.6M135.8 108.2h.6M136 99h.6M136.3 107.3h.6M134.6 109.3h.6M138 104.5h.6M135.9 98.1h.6M136.9 103.3h.6M137.6 105.4h.6M134.6 110.6h.6M135.9 102.4h.6M137.4 106.8h.6M135.3 103h.6M136.1 103.9h.6M136.2 107.6h.6M137.1 101.3h.6M135.9 108.6h.6M138 97.9h.6M138.3 102h.6M136.2 102.6h.6M137 103.7h.6M136.3 100.4h.6M137.8 106.2h.6M136.1 105.3h.6M136.2 108.6h.6M136.7 96.9h.6M137 103.6h.6M136.6 109h.6M136.1 107.5h.6M136.4 104.2h.6M135.9 104.1h.6M136.1 108.2h.6" stroke="#333" stroke-width=".6" fill="none" opacity=".62" filter="url(#b1)"/>
<g font-size="2.8" class="s" fill="#808080" text-anchor="middle" filter="url(#b1)"><text x="117.7" y="90">12.90%</text><text x="136" y="89.2">0.8750%</text></g>
<g filter="url(#b1)">
<rect x="180.8" y="91.8" width="18.1" height="19.2" fill="none" stroke="#929292" stroke-width=".6"/>
<rect x="201.4" y="91.8" width="14.4" height="19.2" fill="none" stroke="#929292" stroke-width=".6"/>
</g>
<g clip-path="url(#cp2)">
<g filter="url(#b3)">
<path d="M157.6 113.3V93.1H165.1C169.2 93.1 171.3 96.1 171.3 102.2V113.3Z" fill="#262626"/>
<path d="M183.3 113.3V100.5C183.3 97.5 185.8 95.8 189.6 95.8C193.4 95.8 195.9 97.5 195.9 100.5V113.3Z" fill="#222"/>
</g>
<ellipse cx="161.5" cy="108.1" rx="2.5" ry="7.2" fill="#f4f4f4" filter="url(#b4)"/>
</g>
<path d="M160.9 94.6h.6M160.3 92.5h.6M173.7 105.5h.6M166.6 94.3h.6M170.2 96h.6M164.3 95.7h.6M171.2 106.5h.6M171.4 106.4h.6M162.9 90.2h.6M170.9 108.9h.6M171.1 106.7h.6M164.4 94.1h.6M160 93.1h.6M171.2 102.5h.6M162 91.9h.6M167 98.4h.6M165.7 93.5h.6M168.3 92.5h.6M161.1 93.4h.6M168 95.6h.6M162.4 93.6h.6M170.7 106.9h.6M165.3 96h.6M167.7 98.1h.6M166.8 95.5h.6M164.1 94.4h.6M161.8 92.7h.6M160.3 90.2h.6M163.7 94.2h.6M167 92.8h.6M169.9 100.3h.6M165.1 95.1h.6M170.2 106.5h.6M166.6 93.4h.6M166.3 94.5h.6M172.6 101.6h.6M170.9 109.8h.6M162 92.8h.6M170.8 100h.6M163.1 91.7h.6M170.6 104h.6M164.5 92.9h.6M170.6 104.7h.6M170 99.3h.6M163.3 95.4h.6M168.4 97.9h.6M170.8 103.3h.6M161.9 90.8h.6M161.1 94.2h.6M160.8 92.4h.6M165.6 96.9h.6M167.7 100.1h.6M164 94.2h.6M168.7 99h.6M173.7 104.7h.6M171.4 108.8h.6M162.7 92h.6M170.4 108.4h.6M171.9 103.5h.6M173.2 108.8h.6M171.3 100h.6M164.5 95.1h.6M165.2 94.4h.6M167.4 92.1h.6M171.4 96.6h.6M164.6 95.9h.6M163.3 90.9h.6M164.7 92.9h.6M166.9 93.4h.6M169.7 101.2h.6M171.6 100h.6M166.2 96.2h.6M174.7 108.7h.6M170.7 109.8h.6M171.2 109.5h.6M174.3 107.6h.6M163.2 89h.6M170.6 108.1h.6M163.8 92.5h.6M173.2 101.9h.6M167.2 97.3h.6M169.2 99.5h.6M172 99h.6M172.2 101.2h.6M168.7 101.7h.6M170.4 107.7h.6M161.2 93.1h.6M163.8 89.5h.6M165 92.7h.6M168.6 96.5h.6M162.1 94.3h.6M170 101.7h.6M173.2 110.9h.6M170.4 100.8h.6M170.1 101.2h.6M164.9 96.2h.6M161 93.8h.6M172.1 107h.6M170.6 106.7h.6M162.4 93.2h.6M170.7 109.7h.6M169 94.8h.6M173.1 110h.6M169.5 96.1h.6M174 109.2h.6M167.4 93.6h.6M171 98.5h.6M162.2 93.7h.6M165 92.3h.6M162.4 91.3h.6M166.2 92.1h.6M160 91.6h.6M162.9 93.2h.6M168.6 94.5h.6M173.4 106h.6M171 104.9h.6M174.2 110.4h.6M163.6 95.3h.6M172 110.2h.6M170.4 109.4h.6M162.1 91.6h.6M170.2 106.9h.6M171.2 104.7h.6M172 98.7h.6M169.9 103.8h.6M160.8 93.3h.6M170.1 105.5h.6M170.9 107.3h.6M161.7 90.1h.6M172.1 101.3h.6M164.9 95.9h.6M172.7 107.9h.6M166.2 96h.6M162.5 91.1h.6M164.7 94.6h.6M165.9 97.3h.6M160.5 93.3h.6M161.2 88.1h.6M166.3 93.6h.6M165.7 91.6h.6M169.1 97.4h.6M170.8 103.1h.6M172.6 100.9h.6M171.2 108.3h.6M169.7 101.6h.6M168 94.2h.6M170.2 103.7h.6M171.2 105.4h.6M169.9 104.9h.6M170.4 103.9h.6M167.7 91.2h.6M172.2 104.2h.6M169.8 98.2h.6M162.2 93.3h.6M172.4 103.1h.6M167.6 99.6h.6M159.9 88.4h.6M167.1 98.8h.6M167.2 95.9h.6M162.3 92.8h.6M166.3 94.8h.6M170.3 106.1h.6M161.9 94h.6M170.2 99.6h.6M161 91.7h.6M160.5 87.6h.6M171.7 97h.6M170.9 99.3h.6M169.8 98.8h.6M172.8 102.1h.6M167.8 98h.6M168 100.2h.6M167.4 94.2h.6M169.8 102.8h.6M169.9 103.4h.6M168.8 102.1h.6M172.3 102.7h.6M165.7 94.3h.6M171 96.7h.6M169.4 101.1h.6M166.5 97.1h.6M170.9 110.9h.6M165.2 96.1h.6M165.4 95.9h.6M169.2 93h.6M163 93.7h.6M167.1 98.3h.6M172.8 108.2h.6M173.6 110.9h.6M171.6 101.7h.6M171 110.6h.6M165 95.3h.6M164 95.3h.6M166 96.1h.6M170.6 109h.6M162.8 91.6h.6M171.7 104.4h.6M171.6 109.7h.6M171.1 101h.6M169.1 94h.6M195.2 104.3h.6M191.7 107.2h.6M188.3 109.4h.6M186.4 108.2h.6M187.3 104.8h.6M196.5 101.3h.6M181 101.5h.6M185.8 95.4h.6M194.3 108.1h.6M192.4 110.4h.6M187.3 107.7h.6M189.6 98.3h.6M192.5 99.6h.6M196.2 95.4h.6M194.4 103h.6M181.1 101.1h.6M194.7 100.8h.6M198.3 105.4h.6M187.1 102.8h.6M195.8 101.8h.6M187.4 104.1h.6M190.3 97.7h.6M190.6 107.9h.6M190.2 98.8h.6M193 99.1h.6M183.3 101.7h.6M193.3 102.3h.6M195.6 109.1h.6M188.5 109.4h.6M194.7 107.2h.6M188.4 108.3h.6M192.1 109.4h.6M190.7 101.9h.6M183.6 104.5h.6M191.3 100.5h.6M193 105.6h.6M192.2 103.6h.6M185.7 100h.6M188 99.5h.6M185.6 106.8h.6M191.2 102.1h.6M184.9 108.8h.6M194.5 107.7h.6M180.9 110.6h.6M195.3 109.9h.6M192.6 98.3h.6M192.4 100.6h.6M196.3 96.5h.6M184.8 99h.6M197.5 97.3h.6M192.9 108.5h.6M184.8 101.4h.6M191.7 107.7h.6M195.2 99.4h.6M187.8 105.7h.6M198.1 100.7h.6M194.5 100.5h.6M184.9 105.6h.6M192 105.4h.6M187 101.7h.6M195.9 96.6h.6M187.8 98.2h.6M189.1 100.9h.6M189.2 105.3h.6M188.5 99.3h.6M192.2 100.9h.6M198 105.1h.6M193.2 104.1h.6M193.4 97.3h.6M190.9 103.9h.6M189.9 105.8h.6M189.5 97.2h.6M191.5 101.8h.6M196.2 104.2h.6M190.4 105.2h.6M189.8 95.5h.6M183.7 108h.6M192.9 101.4h.6M186 109.8h.6M188.7 97.8h.6M194.9 105.7h.6M188 101.7h.6M187.1 102.8h.6M198.9 103h.6M194.9 100.8h.6M192.3 93.3h.6M184.4 101.1h.6M195.2 105.6h.6M192.5 106.2h.6M189.3 104.4h.6M188.1 104.9h.6M198.4 104.1h.6M188.6 102.4h.6M181.4 110.4h.6M195.7 107.3h.6M191.3 108.9h.6M190.7 105.8h.6M188.5 104.1h.6M191.8 100.8h.6M197.3 107h.6M184.7 100.6h.6M190.7 103h.6M198.9 98.9h.6M191.1 104.2h.6M190.2 108.6h.6M194.1 101.7h.6M188.3 107.2h.6M190.8 101.9h.6M182.6 106.9h.6M188.7 108h.6M187.7 104.5h.6M189.7 94.3h.6M191.3 106.7h.6M190.6 105.4h.6M198.6 93.1h.6M185.8 100.9h.6M186.9 101.9h.6M184.1 102.8h.6M193.6 100.8h.6M194.5 109.8h.6M195.4 106.3h.6M180.9 104.1h.6M194.5 101.3h.6M190.7 98.9h.6M194.3 97.3h.6M191.2 104.5h.6M196.8 94.7h.6M196 95.3h.6M193.9 106.9h.6M187.4 103.5h.6M193.7 103h.6M190.5 104.5h.6M194.3 103.9h.6M192.2 102.4h.6M180.1 98.4h.6M197.6 93.3h.6M184.5 110.2h.6M197 96.3h.6M183 98.4h.6M199.9 98.3h.6M193 109.7h.6M190.6 104.8h.6M197.1 103.8h.6M188.6 104.5h.6M179.3 101.7h.6M193.4 99h.6M183.6 108.6h.6M193.2 109.5h.6M191.3 106.9h.6M191.1 98.9h.6M195.8 109.4h.6M194.2 100.5h.6M196.1 97.8h.6M190.8 102.8h.6M193.3 103.7h.6M183.6 97h.6M185.1 93.3h.6M193.4 102.3h.6M196.1 103.2h.6M191.5 100.8h.6M188.4 104.6h.6M189.1 102.5h.6M190.1 105.4h.6M198.2 103.7h.6M189.1 108.3h.6M192.4 98.2h.6M189.7 104.1h.6M187.2 109.7h.6M193 101.5h.6M197.3 107h.6M191.4 106.4h.6M195.7 109h.6M187.4 106.8h.6M190.6 103h.6M188.1 110.2h.6M197.1 102.6h.6M190.3 106.9h.6M195 102.6h.6M195.8 107.7h.6M191.5 99.2h.6M186.1 94.2h.6M189.2 103.5h.6M189.3 100.8h.6M195.1 93.3h.6M183.2 106.7h.6M197.6 107.1h.6M184.8 93.8h.6M194.2 106.4h.6M191.6 96.8h.6M194 107.6h.6M190.2 103.2h.6M191.5 99.8h.6M193.1 97.3h.6M199.1 99.8h.6M195.8 108.3h.6M196.3 107.4h.6M196.9 97.7h.6M191.6 102.9h.6M185.7 105.4h.6M189.4 92.8h.6M190.4 106.1h.6M186.4 99.9h.6M182.2 106.8h.6M195.9 100.4h.6M196 97.4h.6M188.8 102.5h.6M190.2 97h.6M190.1 98.5h.6M195 105.9h.6M188.6 103h.6M188.7 110.1h.6M193.7 108.5h.6M180.2 108.8h.6M190.6 102.2h.6M199.3 104.8h.6M190.3 100.5h.6M195.6 105.2h.6M193.9 106.4h.6M190.8 103.2h.6M186.9 101.7h.6M188.4 109.9h.6M196.9 101h.6M187.1 94.6h.6M195.6 108.9h.6M199.7 106.4h.6M193.3 102.9h.6M184.7 108.6h.6M189.4 104.4h.6M187.1 107.7h.6M182.3 97.4h.6M196.8 108.2h.6M186.1 106.2h.6M193.1 110.7h.6M196.8 110.7h.6M191.2 108.8h.6M196.7 94.9h.6M183.7 104h.6M187.1 110.4h.6M185.8 107.8h.6M196.1 109h.6M195.4 107.2h.6M194.2 106.6h.6M189.2 104.8h.6M186.4 99h.6M191.6 99.5h.6M188 100.8h.6M192.2 100.6h.6M197 106.9h.6M184 104.3h.6M191.4 99.6h.6M193.9 96.2h.6M191.2 109h.6M181.3 108.2h.6M195.6 99.7h.6M185.1 103.6h.6M191.1 103.6h.6M189.5 98.1h.6M181.7 100.4h.6M195.9 109.2h.6M194.8 103.5h.6M188 101.7h.6M191.9 96.6h.6M192.9 107.2h.6M187.9 110h.6M189 104h.6M179 108.4h.6M196.1 107.7h.6M191.5 106.5h.6M182.3 110.1h.6M192.2 104.2h.6M187.6 105h.6M188.1 107.8h.6M191.3 100.3h.6M194.6 104.4h.6M193.4 107.3h.6M194.1 97.8h.6M196.1 104.2h.6M192.2 105.9h.6M179 108.9h.6M198.6 101.6h.6M191.7 110.4h.6M192.4 110.9h.6M191.3 103.4h.6M187.5 104.3h.6M184.4 97.8h.6M191.6 99.5h.6M191.8 104.2h.6M190.3 107.9h.6M188.7 98.7h.6M189.7 103.6h.6M198 110.6h.6M184.1 94.3h.6M184.7 108h.6M181.5 109.9h.6M192.3 99.4h.6M188.9 105.9h.6M197.1 103.2h.6M188 105.4h.6M187 107.7h.6M193 109.9h.6M191.5 104.1h.6M183 107.5h.6M193 104.4h.6M191.3 104.3h.6M186.5 105.5h.6M192 102.7h.6M190.5 103.7h.6M186.5 100.7h.6M194.6 96.7h.6M186.1 110.2h.6M183.5 109.2h.6M198.6 103.5h.6M195.1 110.7h.6M180.2 102.4h.6M188.8 110.1h.6M188.7 97.4h.6M184.1 105.1h.6M191.4 107.3h.6M185.2 107.6h.6M190.4 99h.6M194.1 102.6h.6M194 100.6h.6M199.9 108.1h.6M179.2 102.5h.6M189.7 105.5h.6M184.9 110.4h.6M199.2 105.5h.6M192.6 110.3h.6M193.5 104.3h.6M193.7 97.9h.6M176.5 105.1h.6M177.6 108.9h.6M172.9 104.1h.6M176.3 102h.6M172.7 107.1h.6M180.7 108.9h.6M174.6 103.8h.6M180.7 108.9h.6M177.1 101.1h.6M172.9 108.2h.6M175 107.2h.6M173.2 107.5h.6M176.4 101.5h.6M172.9 102.9h.6M175.3 106h.6M180.3 102.3h.6M173.5 105.9h.6M173.7 100.4h.6M176.3 104.6h.6M177.6 105.6h.6M172.4 104.9h.6M172.5 101.1h.6M210.2 97h.6M210.4 102.8h.6M207.9 101.2h.6M207.9 104.2h.6M209.6 101.1h.6M209.6 102.5h.6M208.5 99.7h.6M208.9 106.7h.6M208.4 103h.6M209.4 100.6h.6M208.7 101.2h.6M209.4 102.9h.6M209.2 104.7h.6M208.7 100.9h.6M210.1 102.5h.6M208.7 99h.6M208.9 101.1h.6M207.7 109.5h.6M209.6 106.2h.6M209 107.5h.6M208.8 105.8h.6M207.8 103.1h.6M207.6 100.9h.6M210.8 97.6h.6M206.9 108h.6M207.8 107.1h.6M208.8 108.8h.6M208.6 105.1h.6M208.8 104.6h.6M208.8 103.9h.6M209 109.5h.6M209.5 105.2h.6M210.3 107.1h.6M210.5 105.4h.6M209.1 104h.6M210.8 103.2h.6M208.4 109.7h.6M209.4 104.9h.6M209.7 106.3h.6M208.8 106.5h.6M209.4 105.9h.6M209.3 105.7h.6M209.4 100.7h.6M210.5 109.6h.6M209.1 107.7h.6M210.6 107.2h.6M207.6 106.8h.6M206.8 104.1h.6" stroke="#333" stroke-width=".6" fill="none" opacity=".62" filter="url(#b1)"/>
<g font-size="2.8" class="s" fill="#808080" text-anchor="middle" filter="url(#b1)"><text x="189.9" y="89.6">12.80%</text><text x="208.6" y="88.8">0.3250%</text></g>
<g filter="url(#b1)">
<rect x="253.1" y="91.9" width="18.2" height="19.4" fill="none" stroke="#929292" stroke-width=".6"/>
<rect x="273.8" y="91.9" width="14" height="19.4" fill="none" stroke="#929292" stroke-width=".6"/>
</g>
<g clip-path="url(#cp3)">
<g filter="url(#b3)">
<path d="M230.6 113.6V92.9H237.8C241.7 92.9 243.7 96 243.7 102.2V113.6Z" fill="#262626"/>
<path d="M254.9 113.6V100C254.9 96.9 257.5 95.2 261.3 95.2C265.1 95.2 267.7 96.9 267.7 100V113.6Z" fill="#222"/>
</g>
<ellipse cx="234.5" cy="108.4" rx="2.5" ry="7.2" fill="#f4f4f4" filter="url(#b4)"/>
</g>
<path d="M242.1 100.7h.6M235.3 91.1h.6M233 88.8h.6M242.6 106.6h.6M240.2 94.5h.6M245.5 106.9h.6M245 98.9h.6M234 89.2h.6M241.7 98.7h.6M237.8 96.5h.6M243.6 111.4h.6M245 101.2h.6M238.7 90.5h.6M234.8 92.1h.6M243.3 98.4h.6M244 97.4h.6M240.6 98.1h.6M241.2 99.6h.6M243 104.9h.6M241.3 99.5h.6M237.7 93.8h.6M243.4 97.3h.6M244.3 110.7h.6M244 104.7h.6M234.2 90.6h.6M240.2 99.3h.6M234.7 92.1h.6M242 103.4h.6M233.9 92.9h.6M239.2 98.1h.6M240.4 93.6h.6M244.2 97h.6M244.9 110.1h.6M239.5 93.6h.6M238.9 92.3h.6M238.1 93.7h.6M241.9 104.1h.6M240.9 97.4h.6M237.1 91.5h.6M234 91.9h.6M246.2 110.8h.6M244.6 100.3h.6M247 109.6h.6M244.4 108.3h.6M242.4 97.2h.6M241.3 99.3h.6M243.6 105.5h.6M243.4 97.1h.6M244.7 106.2h.6M243.6 104.5h.6M242.2 94.2h.6M246.2 107.7h.6M244.9 107.9h.6M242.6 100.1h.6M242.8 99.6h.6M243.4 106.4h.6M246.5 110.8h.6M236 91.4h.6M237.4 91.1h.6M242.5 95h.6M245.7 109.8h.6M242.8 101.4h.6M237.6 93.1h.6M240.3 91.9h.6M241.5 99.6h.6M238.7 96.5h.6M243.7 97.3h.6M245.8 105.3h.6M242.4 104.7h.6M243.8 110.3h.6M236.4 92.3h.6M243.4 109.8h.6M244.9 101.7h.6M244.2 107h.6M237.7 94.6h.6M241.9 101.3h.6M245.9 110.6h.6M246.3 106.1h.6M241.2 95.9h.6M238.4 93.5h.6M243.5 101.6h.6M237.7 95.8h.6M239.6 97.4h.6M242.6 102.2h.6M232.7 92.9h.6M246 106.6h.6M237.5 95.5h.6M234.6 93.2h.6M239.6 98.4h.6M245.3 109.2h.6M235.2 93.3h.6M233.6 93h.6M244.6 107.1h.6M239.9 96h.6M244.1 97.1h.6M233.6 87.6h.6M241.7 101.5h.6M241.8 103h.6M243.4 101.5h.6M234.8 88.8h.6M242.8 101.5h.6M236.7 92.7h.6M241.6 100.6h.6M238 94.4h.6M244.2 98.6h.6M243.7 97.6h.6M242.4 105.9h.6M241.3 97.9h.6M232.7 94.1h.6M243.1 106.6h.6M238.3 95.1h.6M241 95.2h.6M238.5 96.6h.6M242.6 104.8h.6M242.4 105.7h.6M242.3 96.7h.6M246.9 110h.6M241.2 93.3h.6M245 102.5h.6M235.9 91.5h.6M241.9 96.8h.6M237.4 94.6h.6M243 98.5h.6M245.3 107.8h.6M244.1 97h.6M244 100.6h.6M239.6 96.9h.6M233.9 94.3h.6M235.8 93.5h.6M236.5 95.4h.6M244 103.9h.6M235 93h.6M244.4 103h.6M238.5 93.2h.6M241.5 101h.6M239.9 97.3h.6M241.8 98.9h.6M244.1 108.4h.6M235.6 88.9h.6M245.6 108.5h.6M243.2 103.4h.6M238.4 96.8h.6M233.4 89.3h.6M235.7 94.1h.6M243.8 98h.6M243.7 109.1h.6M235 93h.6M240.2 98.8h.6M239.9 94.3h.6M238.5 97.1h.6M241.7 95.9h.6M235 92.5h.6M239.7 92.8h.6M241 95.6h.6M237.5 95.5h.6M240.6 96.1h.6M239.4 96.4h.6M239.5 93h.6M245.2 105.9h.6M242.5 105.4h.6M243.8 96.2h.6M232.7 94h.6M235.8 90.6h.6M245.6 108h.6M240.8 97.3h.6M243.8 108.7h.6M244 104.5h.6M239.3 93.7h.6M245.5 109h.6M242 98.6h.6M243.1 107.6h.6M242.4 104h.6M233.6 88.4h.6M244.9 109.5h.6M243.7 106.9h.6M240 99h.6M244.4 98.9h.6M234.4 93.9h.6M237.7 93.5h.6M237.3 88.8h.6M245.2 111.3h.6M243.7 107.1h.6M242.4 98.8h.6M242.9 98h.6M241.4 95.4h.6M237 88.5h.6M240.7 98.3h.6M241.4 98.8h.6M241.6 99.1h.6M238.7 91.4h.6M241.9 102.3h.6M240.4 99h.6M243.4 99.4h.6M243.3 110.8h.6M236.5 89.7h.6M245.4 109.8h.6M241.3 93.6h.6M238.9 94.8h.6M241.7 101.4h.6M242.6 107.5h.6M265.2 106.2h.6M255.5 108.2h.6M258.5 99.5h.6M260.8 109.7h.6M265.1 104.9h.6M267.5 104.9h.6M260.8 106.9h.6M259 108h.6M259.6 109.3h.6M261.6 104.9h.6M267.7 102.9h.6M261.1 109.7h.6M267.2 107.5h.6M268.6 92.7h.6M257.9 108.2h.6M258.6 96h.6M271.9 109.2h.6M270.8 101.3h.6M262.4 101.1h.6M269.3 101.9h.6M259.7 102.9h.6M260.2 101.4h.6M258.2 97.3h.6M268.8 100h.6M267.3 96.8h.6M266 103h.6M270.5 97.7h.6M267.8 96.4h.6M265.7 95.2h.6M263.3 101.4h.6M260.5 101.1h.6M263 98.3h.6M260.7 99.1h.6M270.8 98.6h.6M261.1 104.5h.6M259.9 106.4h.6M260.4 105.2h.6M265.9 107.9h.6M268.5 105.3h.6M265.8 95.9h.6M260.7 94.3h.6M267.4 105h.6M255.9 101.4h.6M259.9 107.2h.6M256.5 109.7h.6M262.1 100.4h.6M267.9 105.5h.6M268.1 101.5h.6M260.7 98.4h.6M260.5 103.3h.6M263.7 100.7h.6M270.9 110.2h.6M265.4 106h.6M256.1 97.6h.6M260.7 102h.6M264.8 101.5h.6M259.7 107.6h.6M261.9 109.1h.6M266.3 102h.6M264.1 105.4h.6M262.9 97.3h.6M259.3 105h.6M261.1 92.9h.6M266.8 105h.6M261.2 99.8h.6M258.7 105.1h.6M262.8 105.6h.6M263.8 109.6h.6M268.3 110h.6M262.5 111h.6M252.6 98.7h.6M265.1 109.7h.6M258.6 110.5h.6M261.5 104.1h.6M262.3 102.4h.6M268.1 102.5h.6M259 109.4h.6M256.7 104.8h.6M258.5 104.3h.6M254.6 102.5h.6M254 106.3h.6M263.5 99.2h.6M255.2 100h.6M266.6 100.8h.6M266.7 106.7h.6M256.3 95.5h.6M258.9 97.4h.6M258.6 101.5h.6M264.3 94.3h.6M257.3 100.1h.6M258.5 108h.6M256.6 104.5h.6M269.6 109.8h.6M256.5 109.4h.6M262.6 102.8h.6M266.2 102.4h.6M258.8 96.6h.6M265.2 106.4h.6M271.5 99.9h.6M269.4 102h.6M255.9 106.4h.6M267.3 103.3h.6M270.8 106.3h.6M264.3 102.6h.6M256.6 107.9h.6M257.9 106.1h.6M260.7 107.5h.6M264.2 102.8h.6M264.2 102.9h.6M261.1 102.5h.6M268.4 109.4h.6M268.1 100.9h.6M261.1 109.1h.6M259.3 98.8h.6M257.6 101.3h.6M255.1 101.3h.6M260 110h.6M257.1 103.7h.6M260.2 99.9h.6M256.8 104.3h.6M266 104.9h.6M255.4 111.2h.6M263 104.3h.6M255.1 102.6h.6M268.9 103.2h.6M257.8 99.3h.6M261.8 101.1h.6M265.9 100.2h.6M267.9 97.8h.6M257.5 106.2h.6M265.8 105.8h.6M268.9 108.9h.6M262.8 104.9h.6M269.8 104.9h.6M267.5 109.2h.6M259.5 108.1h.6M267.4 93.2h.6M261.3 102.5h.6M265.4 105.9h.6M255.9 97.9h.6M262.2 101h.6M261.5 105.7h.6M264.4 107h.6M268.6 105.9h.6M261.8 107.4h.6M268.6 110.7h.6M259.5 110h.6M262.7 101h.6M261.1 109.5h.6M260.1 105.6h.6M260.6 97.4h.6M269.2 99.3h.6M261 105.3h.6M261.6 109.3h.6M257.1 97.4h.6M264.1 104.4h.6M256.8 109.2h.6M264 95.6h.6M263.9 108h.6M266.4 100.7h.6M261.7 104.3h.6M265.4 100.6h.6M262.2 102.9h.6M262 100.4h.6M264.6 110.5h.6M269.8 104.4h.6M264.6 105.2h.6M264.7 98.8h.6M267.5 106.6h.6M269.6 98.9h.6M263 103.3h.6M258.8 108h.6M262.2 97.3h.6M260.3 110.2h.6M266.5 110h.6M252.7 108.4h.6M258.3 96.1h.6M258.7 106.7h.6M266.5 106.4h.6M261.1 98.4h.6M265.3 104.7h.6M263.1 97.5h.6M258.7 104.2h.6M260.8 106.9h.6M270.3 107.2h.6M265.1 102.9h.6M255.6 107h.6M262.9 101.1h.6M258.8 109.4h.6M265.9 104.5h.6M267 96.2h.6M261 106.5h.6M261.5 107.1h.6M257.6 96.6h.6M267.5 107.8h.6M267.8 99.6h.6M264 104.1h.6M251.8 97h.6M257.3 108.6h.6M261.1 98.4h.6M267.2 101.1h.6M265.2 110.2h.6M259.2 101h.6M262.2 104.5h.6M259.5 105.9h.6M261.7 104.4h.6M267.7 108.2h.6M261.1 109.5h.6M267.9 108.3h.6M270.6 100.2h.6M267.4 109.5h.6M265.5 109.2h.6M261.7 103.7h.6M266.7 105.5h.6M263.5 107.9h.6M270.1 99.8h.6M255.3 108h.6M270.8 102.9h.6M265.1 102.5h.6M262.7 104.4h.6M259.6 97.5h.6M266 104.4h.6M262.3 105.4h.6M262.8 103.2h.6M260.6 105.6h.6M259.9 102.6h.6M266.3 109h.6M265.5 106.4h.6M265.1 104.3h.6M254.6 103.4h.6M257.6 104.4h.6M264.3 104.5h.6M262 104.1h.6M265.9 100h.6M257.5 104.7h.6M264.6 109.4h.6M262.4 111.2h.6M256.1 108.3h.6M259.7 102.4h.6M269.8 104.9h.6M265.8 102.2h.6M260.6 110.8h.6M259.4 101.9h.6M265.8 103.2h.6M254.9 103.9h.6M271.4 100.9h.6M254.9 110.1h.6M260.2 101.8h.6M257 108.5h.6M264.8 103.2h.6M260.3 104.5h.6M259.1 109.4h.6M262.7 108.4h.6M262.8 111.1h.6M268 105.8h.6M259.5 110.9h.6M259.3 101.4h.6M261.6 106.3h.6M259.9 103.5h.6M259.2 99.9h.6M255.8 103.6h.6M263.7 108.5h.6M260.6 97.8h.6M256.3 110.7h.6M266.3 109.6h.6M267.7 105.5h.6M260.2 98.9h.6M263.1 103.5h.6M256.9 101.5h.6M256 108.1h.6M263.2 103.7h.6M266.7 106.8h.6M251.8 104.9h.6M255.5 97.3h.6M271.8 102.6h.6M265.7 109.7h.6M261.9 101.8h.6M255.8 99.9h.6M262.4 93.7h.6M268.3 95.1h.6M255.7 101.6h.6M260.4 102.7h.6M260.5 109.1h.6M261.8 106.3h.6M256.5 99.9h.6M262.7 97h.6M265 106.4h.6M267.6 99.7h.6M262.4 104.4h.6M271 107.1h.6M270.1 99.6h.6M262 108.1h.6M265.7 110.5h.6M267.5 103.3h.6M261.1 103.2h.6M266.6 109.9h.6M259 107.7h.6M261.1 101.6h.6M263.3 110.7h.6M261 99.9h.6M258.4 102.8h.6M262.6 105.4h.6M261.3 104h.6M264.6 96.8h.6M261.2 102h.6M256.4 107.4h.6M267.6 108.7h.6M258.2 106.9h.6M258.4 104.6h.6M263 110.6h.6M262.5 110.3h.6M263.2 109.3h.6M261.9 100.8h.6M264.9 99.2h.6M255.8 101.6h.6M263.7 102.6h.6M263.8 99.4h.6M268.2 106.4h.6M262 99.9h.6M262 102.7h.6M261.6 96.9h.6M266.2 105.6h.6M271.5 111h.6M255.7 100.7h.6M265.3 107h.6M263.6 104.4h.6M256.3 104.9h.6M256.7 97.2h.6M258 110.4h.6M264.1 103.6h.6M246.5 101.6h.6M248.9 101.8h.6M249.3 104.5h.6M245 100.7h.6M245.8 106.8h.6M245.1 104.4h.6M247.3 106h.6M252.9 110.1h.6M249.6 110.9h.6M245 107.3h.6M251.4 100.8h.6M252.6 107.8h.6M252.6 103.1h.6M245.6 107.7h.6M245.5 106.7h.6M247 102.2h.6M245.9 109.9h.6M245.5 101.6h.6M247.7 102.9h.6M248.8 108.3h.6M252.5 107.7h.6M246.9 103.4h.6M280.2 106.6h.6M280 103.4h.6M282.2 99.3h.6M279.1 97.6h.6M281.6 102.9h.6M282.4 97.5h.6M283.2 108.4h.6M280.6 102.6h.6M281 95.5h.6M278.9 99.2h.6" stroke="#333" stroke-width=".6" fill="none" opacity=".62" filter="url(#b1)"/>
<g font-size="2.8" class="s" fill="#808080" text-anchor="middle" filter="url(#b1)"><text x="262.2" y="89.7">13.00%</text><text x="280.8" y="88.9">0.1250%</text></g>
<g filter="url(#b1)">
<rect x="326.1" y="93" width="18.4" height="18.6" fill="none" stroke="#929292" stroke-width=".6"/>
<rect x="347.6" y="93" width="13.9" height="18.6" fill="none" stroke="#929292" stroke-width=".6"/>
</g>
<g clip-path="url(#cp4)">
<g filter="url(#b3)">
<path d="M303.5 113.9V93.7H310.5C314.4 93.7 316.3 96.7 316.3 102.8V113.9Z" fill="#262626"/>
<path d="M328.5 113.9V101.7C328.5 98.7 330.9 97.1 334.6 97.1C338.3 97.1 340.7 98.7 340.7 101.7V113.9Z" fill="#2e2e2e"/>
</g>
<ellipse cx="307.4" cy="108.7" rx="2.5" ry="7.2" fill="#f4f4f4" filter="url(#b4)"/>
</g>
<path d="M313.4 98.8h.6M311.6 95.7h.6M315.1 100.1h.6M311 94.5h.6M312.5 98.5h.6M306.5 94.4h.6M316.8 102.7h.6M307.3 95.2h.6M314.9 102.3h.6M314.7 97h.6M308.3 93.3h.6M314.6 104.3h.6M313.7 97.4h.6M312.3 98.7h.6M313.7 96.7h.6M317.7 104.4h.6M317.2 106.4h.6M316.4 102.5h.6M313 92.9h.6M309.6 96.5h.6M318.7 108.2h.6M315.2 97.6h.6M305.9 94.3h.6M318.4 111.4h.6M313.6 100.9h.6M315.4 109.2h.6M313 93.6h.6M310.7 95.8h.6M316.4 102.3h.6M318 111.8h.6M315.8 110.5h.6M310.7 95.8h.6M309.8 91.8h.6M308.9 95.2h.6M311.1 95.7h.6M305.6 89.9h.6M313.7 97.5h.6M312.8 96.9h.6M310.4 96.5h.6M315.3 96.5h.6M307.2 91h.6M313.8 99.2h.6M314 93.5h.6M312.9 92.8h.6M310.3 95.6h.6M309.3 92.8h.6M314.6 99.9h.6M312.1 93.9h.6M314.1 102.1h.6M308.3 89.3h.6M314.7 97.6h.6M312.8 96.6h.6M317.7 108.7h.6M312.3 99.6h.6M314.5 104.1h.6M316.7 104.9h.6M308.4 93.5h.6M315.5 104.1h.6M313.9 98.4h.6M305.8 92.8h.6M314.4 103.1h.6M316.4 110.4h.6M315.7 100h.6M319 110.8h.6M317.4 106.3h.6M312.4 97.5h.6M316.4 105.5h.6M315.3 103.8h.6M311.7 96.3h.6M312.6 96.9h.6M316.7 110.5h.6M315.2 100.7h.6M311.3 97.4h.6M319 108h.6M310.4 95.7h.6M310.8 97h.6M314.2 100.7h.6M311 92.8h.6M307.1 91.1h.6M315.3 104.8h.6M316 110.2h.6M312.8 96.7h.6M313.9 98.1h.6M310.1 96.4h.6M313.3 99.7h.6M314.1 102.9h.6M310 91h.6M307.1 91.4h.6M314.7 104.6h.6M312.9 97.6h.6M316.6 100.3h.6M318 111.4h.6M306.3 95h.6M310.6 92.9h.6M311.1 97.2h.6M310.9 97.6h.6M311.3 92h.6M315.3 106h.6M315.7 101.1h.6M316.5 108.2h.6M315.4 99h.6M315.8 107.7h.6M316.2 104.4h.6M314.8 104.4h.6M315.5 108.8h.6M313.2 97.9h.6M310.3 95.9h.6M305.6 89.8h.6M317.5 106.8h.6M316.8 103.5h.6M316.3 99.8h.6M316.4 99.6h.6M311.5 90.4h.6M313.7 99.4h.6M316.4 108.7h.6M310.3 90.6h.6M318.9 107.1h.6M314.2 103.5h.6M315.5 97.9h.6M318.2 109.6h.6M317.4 106.7h.6M317.5 111.8h.6M308.8 95.6h.6M306.8 94.1h.6M312.3 92.4h.6M312.4 98.5h.6M316.1 101.2h.6M313.4 96.4h.6M310.3 97.1h.6M316.1 110h.6M317.5 108.1h.6M305.6 93.9h.6M312.7 95h.6M306.9 94h.6M307.6 94.9h.6M309 94.3h.6M318.6 104.9h.6M317.2 109.1h.6M316.5 103.2h.6M318.2 103.2h.6M315.7 107.8h.6M309.8 90.8h.6M308.8 95.7h.6M315.4 104.7h.6M307.3 93.2h.6M314.6 99.4h.6M309 95.3h.6M313.5 100.7h.6M309.9 95.3h.6M316.9 108.4h.6M309 95.6h.6M311.7 92.8h.6M309.1 90h.6M310.5 93.9h.6M312.7 96.5h.6M317.5 109h.6M318.3 106.2h.6M309.8 93.7h.6M305.7 94.4h.6M309.1 96h.6M314.9 102.9h.6M314.7 101.8h.6M316.5 107.2h.6M317.8 108.5h.6M318.4 106.2h.6M317.3 103.5h.6M314.9 99.7h.6M313.6 93.9h.6M310.5 95.2h.6M316.3 98.4h.6M317.9 108.5h.6M315.1 106.3h.6M315.5 104.9h.6M306.2 91.3h.6M312.5 97.7h.6M314.9 97.1h.6M316.8 101.6h.6M313.9 96.5h.6M312.4 93.6h.6M313.8 101.3h.6M315.6 109.3h.6M307 93.3h.6M310.3 94h.6M314.3 94.1h.6M314.7 96.6h.6M316.1 109.3h.6M308.1 93.4h.6M307.5 92.8h.6M305.8 89.1h.6M317.7 101.3h.6M307.8 94.9h.6M316.7 101h.6M317.8 111h.6M316.3 109.8h.6M306.1 90.3h.6M318.1 108.1h.6M313.5 97.9h.6M316.4 108.3h.6M312.9 92.9h.6M307.9 89.1h.6M330.9 99.7h.6M333.3 106.6h.6M338.6 108.5h.6M333.6 105.7h.6M338.4 94.8h.6M330.9 99.9h.6M338.8 98.3h.6M334.3 104.9h.6M340.8 106.7h.6M340.3 102.8h.6M340.5 98.6h.6M332.6 103.3h.6M340.7 110.8h.6M327.9 103.9h.6M333.8 101.4h.6M337 107.1h.6M335.3 99.2h.6M337.4 102.7h.6M339.5 104.7h.6M331.6 99.8h.6M332.6 105.2h.6M335.5 97.3h.6M339.4 103.4h.6M339.6 106.8h.6M340.7 97.9h.6M334.9 97.3h.6M332.7 104.6h.6M333.2 104h.6M339.1 111.1h.6M332.8 103.1h.6M341.3 102.1h.6M338.7 106.1h.6M336.8 102.2h.6M340.9 97.8h.6M336.2 101.5h.6M336.6 96.8h.6M336.4 105.7h.6M330.1 97.4h.6M332.6 105.1h.6M341.6 100.8h.6M330.9 98.8h.6M332.7 108.4h.6M330.7 111.6h.6M332.6 101.4h.6M338.1 110.3h.6M333.7 104.5h.6M333.2 110.4h.6M341.5 109.1h.6M337 106.9h.6M330.2 104.3h.6M331.8 102.2h.6M337.7 103h.6M342.5 99.6h.6M340.8 100.7h.6M335.5 101.3h.6M335.2 108.8h.6M330.4 108h.6M339.3 100.6h.6M333.8 109.3h.6M335.7 105h.6M336.9 107.3h.6M336.3 106.1h.6M324 95.6h.6M340.1 109.5h.6M326.3 104.4h.6M339.8 110.3h.6M341.8 109.9h.6M332.4 103.2h.6M343.4 100.7h.6M336 111.2h.6M327.4 104.7h.6M324.3 100.9h.6M335.4 105.3h.6M341.2 99.4h.6M330.5 107.3h.6M339.7 110.4h.6M339 100.4h.6M337 107.6h.6M342 110.8h.6M330 95.6h.6M326.3 96.4h.6M339.2 105.8h.6M336.1 100h.6M336.5 103h.6M335.7 108.8h.6M336.2 109.1h.6M336.7 104.5h.6M342.5 109.4h.6M328.3 106.3h.6M334.4 106.8h.6M341.9 103.8h.6M333.8 108.5h.6M339.7 109.3h.6M340.6 94.6h.6M337.9 108.9h.6M339.9 108.6h.6M343.3 101.8h.6M332.4 101.2h.6M341.2 103.2h.6M338.3 103h.6M331.6 102.8h.6M335.8 102.2h.6M343.3 109.3h.6M340 106.7h.6M336 95.1h.6M336.1 101.1h.6M340.3 104.9h.6M337.2 95.9h.6M340 107.5h.6M323.9 102.7h.6M332.2 107.5h.6M334 98.7h.6M331.9 107.4h.6M335.4 109.6h.6M337.9 105.6h.6M336 108.5h.6M333 105.4h.6M332.2 107.6h.6M339.5 110.7h.6M335.7 100.8h.6M333.4 109.2h.6M333 107.1h.6M337.9 110.5h.6M334.4 107.9h.6M332.1 103h.6M327.8 107.1h.6M343.5 108.3h.6M330.7 95.9h.6M336.5 103.3h.6M342 102.5h.6M336.7 107.7h.6M333.9 109.1h.6M338.5 108.2h.6M333.6 102.4h.6M330.2 98.8h.6M337.9 109.5h.6M333 110.8h.6M330 102.5h.6M333.5 99.4h.6M330.4 107.3h.6M334.3 105.5h.6M335.8 100.3h.6M342.8 103.9h.6M342.6 102.7h.6M340.1 101h.6M325.5 104.2h.6M338.8 105.9h.6M343.6 110.3h.6M335 109.7h.6M341.6 104.1h.6M328.7 107.4h.6M338.4 111.4h.6M337.7 108.5h.6M336 107.9h.6M334.4 110.9h.6M333.2 96.7h.6M330.1 102.8h.6M330.7 103.3h.6M336.4 106.7h.6M340.6 106.9h.6M341.5 105.1h.6M339.1 106.2h.6M328.6 103.7h.6M332.5 109.8h.6M337.1 107.5h.6M328 108.4h.6M342.2 107.7h.6M334.6 99.3h.6M339.2 106.9h.6M337.5 100.3h.6M326.3 108h.6M330.2 105.7h.6M342 102.5h.6M330.7 106.1h.6M333.4 104.6h.6M338 105.3h.6M333.4 94.8h.6M335.4 105.5h.6M334.5 111.4h.6M342.1 105.1h.6M327.8 98.8h.6M336.8 107.5h.6M331.3 111h.6M335 108.2h.6M329.7 104.9h.6M337.7 105h.6M340.1 109.4h.6M341.5 107.2h.6M334 108.6h.6M328.8 106.5h.6M338 105.8h.6M335.5 111.2h.6M334.4 101.4h.6M341.2 110.2h.6M328.7 99h.6M335.7 110.5h.6M335 103.6h.6M326.2 102.9h.6M331.7 108.4h.6M337.5 104.2h.6M342.6 104.1h.6M332.7 109.7h.6M340.3 111.2h.6M328.3 103.6h.6M334.6 107.1h.6M337.1 98.7h.6M329.1 99.3h.6M336.8 94.2h.6M331.1 106.3h.6M340.7 99.6h.6M339 99.6h.6M338.2 104.9h.6M343 110.5h.6M329.9 97.5h.6M337.6 108.2h.6M329.5 108.1h.6M331.6 108h.6M333.9 110h.6M340.4 96.3h.6M338.8 106.5h.6M332.6 110.1h.6M339 111.4h.6M326.2 107.7h.6M334.5 105.6h.6M343 101.8h.6M334.6 101h.6M335 104.6h.6M342.4 101.7h.6M343.3 102.4h.6M333.3 107.3h.6M336 102.1h.6M341.2 109.6h.6M342.4 98.1h.6M342.3 94.7h.6M338.2 103.4h.6M332.7 108.4h.6M331.3 102.5h.6M342.4 106h.6M337.2 102.7h.6M342.5 110.8h.6M333.5 100h.6M343.6 99.3h.6M328.6 108h.6M339.4 108.7h.6M343.8 108.2h.6M339.7 99.1h.6M338.9 106.3h.6M339 98.6h.6M333.1 106.9h.6M341 104.5h.6M339.6 108.2h.6M342.4 109.6h.6M332.5 110.2h.6M336.1 102h.6M335.2 107.1h.6M333.9 101.2h.6M337.1 105.9h.6M332.5 101.1h.6M331.2 102.5h.6M342 108.7h.6M332 106h.6M335.5 107.9h.6M338.8 95.5h.6M330.2 107.5h.6M335.1 110.7h.6M332.4 94.5h.6M333.9 101.1h.6M330.5 97.8h.6M337.2 106.5h.6M338 107.9h.6M342.1 108.1h.6M334 106.7h.6M338.4 109.1h.6M343.4 104.6h.6M339.8 104.7h.6M341.3 99.9h.6M335.8 101.7h.6M331.7 98.9h.6M335.6 102h.6M341.1 108.7h.6M340.3 103.5h.6M339.8 104.9h.6M329.4 100.5h.6M336 109.6h.6M336.4 101.6h.6M337.5 103.3h.6M337.6 96.6h.6M339.6 108.1h.6M332.9 111.1h.6M338.2 102.5h.6M337.1 110.3h.6M339.2 94.3h.6M336.4 104.1h.6M330.3 105.8h.6M324.1 106.9h.6M342.1 99.8h.6M338.9 104.9h.6M336.2 105.7h.6M325.6 102.9h.6M335.4 101.4h.6M324.3 96.7h.6M336.8 100.3h.6M338.2 99.5h.6M330.5 105.7h.6M339 105.4h.6M335.8 110.7h.6M343.2 107.7h.6M338.4 109.6h.6M326.6 108.2h.6M336.6 104.8h.6M335 99.6h.6M331.6 106.5h.6M335.2 104.7h.6M330 107.5h.6M340 107.8h.6M335.3 98.7h.6M331.8 109.7h.6M343.5 98.1h.6M334.3 104.1h.6M335.1 99.1h.6M332.7 94.2h.6M332 93.9h.6M334.3 106.6h.6M336.2 105.2h.6M334.7 107.8h.6M325.5 106.7h.6M326.6 107.4h.6M328.9 107.4h.6M336.9 108.3h.6M332.5 104.3h.6M323.9 102.6h.6M320.1 107.2h.6M320.4 102h.6M323 103.9h.6M325.6 109.6h.6M318.1 101.4h.6M317.9 104.3h.6M321 107.9h.6M321.6 105.7h.6M324.3 110.5h.6M317.7 105.6h.6M320.1 109.9h.6M325.4 106.7h.6M320.4 107h.6M323.3 110.4h.6M320.6 103.5h.6M325.4 107.8h.6M321.9 101h.6M322.8 101.1h.6M317.3 105.3h.6M324.7 110.3h.6M325.2 107.6h.6" stroke="#333" stroke-width=".6" fill="none" opacity=".62" filter="url(#b1)"/>
<g font-size="2.8" class="s" fill="#808080" text-anchor="middle" filter="url(#b1)"><text x="335.3" y="90.8">12.70%</text><text x="354.6" y="90">7.30E-3</text></g>
<g filter="url(#b1)">
<rect x="398.1" y="93.5" width="18.8" height="19" fill="none" stroke="#929292" stroke-width=".6"/>
<rect x="419.8" y="93.5" width="14" height="19" fill="none" stroke="#929292" stroke-width=".6"/>
</g>
<g clip-path="url(#cp5)">
<g filter="url(#b3)">
<path d="M375.8 114.8V94.4H383.6C387.9 94.4 390 97.5 390 103.6V114.8Z" fill="#262626"/>
<path d="M402.5 114.8V101.8C402.5 99.5 404.4 98.2 407.3 98.2C410.2 98.2 412.1 99.5 412.1 101.8V114.8Z" fill="#505050"/>
</g>
<ellipse cx="379.7" cy="109.6" rx="2.5" ry="7.2" fill="#f4f4f4" filter="url(#b4)"/>
</g>
<path d="M385.5 99.8h.6M390 111.5h.6M389.9 107.1h.6M378 92.1h.6M378.6 89.8h.6M392.3 107.9h.6M380.6 92.1h.6M392.4 109.1h.6M380.6 91.3h.6M391.1 101.1h.6M387.3 97h.6M384.2 96.9h.6M389.9 112.2h.6M378.8 94.2h.6M390.1 112.4h.6M382.5 92.5h.6M392.4 109.9h.6M391.8 108.9h.6M378.3 90.3h.6M389 97.2h.6M377.9 95.7h.6M388.4 100.5h.6M389.8 103.4h.6M387.3 97.1h.6M379.1 93.8h.6M388.2 106.2h.6M378.8 94.5h.6M385.4 97.8h.6M392.3 105.8h.6M385.7 94.2h.6M392.5 104.8h.6M378.3 94.1h.6M390.2 111.5h.6M392.9 111.5h.6M388.9 102.4h.6M392.6 110.1h.6M381 94.8h.6M387.7 98.2h.6M382.8 96.3h.6M389 97h.6M386.7 95.3h.6M388.3 96.6h.6M392.8 107.9h.6M384.4 92.7h.6M388.7 98.9h.6M388.2 96.7h.6M390.7 102.8h.6M378.8 95.7h.6M391.4 110.9h.6M381.1 93.4h.6M386.5 102h.6M385.6 93.2h.6M385.3 96.6h.6M391.6 105.4h.6M382.7 95.4h.6M378.8 90.5h.6M383.6 95.7h.6M386.4 94.8h.6M385.3 95.1h.6M379.4 89.6h.6M381.6 94.5h.6M378.3 93.9h.6M384.5 96.9h.6M387.3 94.6h.6M378.6 91.4h.6M391.3 105.8h.6M388.8 100.4h.6M391.3 112h.6M379.9 92.4h.6M384.8 99.2h.6M391 109h.6M388.4 101.2h.6M386.1 99.4h.6M378.2 90.6h.6M385.6 98.2h.6M388.6 102.1h.6M388.6 99h.6M391.8 104.6h.6M382.1 90.3h.6M389.2 112.4h.6M388.3 99.6h.6M383.8 95.2h.6M390.1 101.9h.6M381.7 91.4h.6M387.2 100.6h.6M386.4 100.8h.6M386.7 101.6h.6M385.7 97.8h.6M386.9 97.6h.6M382.1 90.7h.6M383.5 96.3h.6M389.5 107.9h.6M380.3 89.3h.6M380.3 94.4h.6M384.9 97.1h.6M388.5 101.5h.6M390.3 104.3h.6M390.3 107h.6M388 103.9h.6M384.3 94.4h.6M390.3 107.9h.6M391.2 103.6h.6M380.9 92.8h.6M386.4 95.6h.6M382.3 94h.6M378.7 93.5h.6M386.5 101.1h.6M384.6 98.3h.6M388.9 104.6h.6M383.8 92.8h.6M378.8 93.8h.6M385.7 99.3h.6M378.1 94.8h.6M379.6 95.3h.6M381.2 92h.6M390.6 109.9h.6M378.8 95.7h.6M389 108.7h.6M392 106.9h.6M390.7 101.4h.6M388.1 100.4h.6M385.8 92.3h.6M389.2 111.1h.6M389.1 107.6h.6M378.7 93.6h.6M390.8 105.4h.6M383.4 92.3h.6M384.4 95h.6M379.8 92.6h.6M379.7 95.3h.6M382.8 94.4h.6M378.9 90.2h.6M385.6 98.3h.6M382.9 97h.6M386.5 96.4h.6M389.2 109.8h.6M391.9 106.3h.6M393.1 107.6h.6M392 105.9h.6M385.2 92.5h.6M379.8 91.9h.6M381.4 96.3h.6M388.4 104.1h.6M380.9 95.8h.6M379.7 94.9h.6M389 97.1h.6M380.5 95.6h.6M391.9 109.3h.6M379.7 94.1h.6M390.1 112.6h.6M389.8 97.2h.6M381.6 96.6h.6M383.7 96.4h.6M386.6 99.7h.6M380.6 93.1h.6M385.1 96.5h.6M382.4 97h.6M381.1 95.8h.6M379.3 94h.6M384.7 94.5h.6M389.6 112.1h.6M390.2 99.7h.6M386.8 102h.6M389.3 101.2h.6M385.3 96.7h.6M389.1 103.6h.6M382.3 96.8h.6M391.9 104.1h.6M380.4 90.7h.6M387.2 102.4h.6M384.7 92.4h.6M384.4 97.2h.6M383.4 92.3h.6M384.7 92.6h.6M389.1 109.5h.6M390.9 104.1h.6M385.5 99.1h.6M389.1 106.1h.6M389 109.7h.6M388.7 106.1h.6M389.4 110.4h.6M391.7 101.2h.6M390.4 99.3h.6M382.1 92.3h.6M389.9 103.4h.6M385.2 98.2h.6M389.4 110.9h.6M388.6 97.9h.6M385.6 100.1h.6M383.4 96h.6M387.2 101.5h.6M378.5 95.2h.6M382.8 94.6h.6M380.2 92.5h.6M378.6 94.1h.6M381.4 96.5h.6M391.8 101.9h.6M391.8 109.6h.6M385 98.9h.6M378 91.9h.6M407.6 101.5h.6M404.2 103.5h.6M410.7 101.1h.6M412.4 107.9h.6M406.8 104h.6M405.7 108.6h.6M406.8 109.9h.6M407.8 103h.6M408.4 108.9h.6M412.1 105.1h.6M404.9 99h.6M403.4 96.9h.6M408.7 108h.6M402.1 109.5h.6M404 103.5h.6M406.6 110.9h.6M406.7 100.7h.6M410.9 104.5h.6M411.1 96.6h.6M401.8 108.2h.6M406 106.8h.6M406.3 107.5h.6M401.7 101.8h.6M405.2 102.6h.6M403.5 103.3h.6M404 112.3h.6M410.1 108.3h.6M399.3 104.6h.6M403.4 106.1h.6M407.4 103.1h.6M404.7 108.6h.6M413.3 111.1h.6M404 105.8h.6M403.3 109.7h.6M402.3 104.5h.6M403.4 106.7h.6M404.4 108.8h.6M410.5 101.6h.6M408.3 99.2h.6M408.9 99h.6M403 107h.6M404.1 102.1h.6M404 103.9h.6M407.9 109h.6M409.1 99.7h.6M404.9 104.2h.6M412.8 102.8h.6M406.5 100.3h.6M408.6 109.3h.6M403 103.4h.6M408.6 111.7h.6M404.1 101.8h.6M409.3 110.8h.6M409.6 101.9h.6M406 110.2h.6M411.7 104.5h.6M411.9 104.2h.6M407.4 104.1h.6M401.9 98.6h.6M407.7 103.9h.6M406.3 105.5h.6M404.6 103.5h.6M409 98.1h.6M407.4 106h.6M402.7 109.2h.6M411.3 101.2h.6M409.5 102.4h.6M409.7 101.9h.6M402.1 103.2h.6M402.1 104h.6M406.9 102.3h.6M409.6 112.4h.6M409.1 102.9h.6M409.7 104h.6M403.9 109.5h.6M409.1 111h.6M404.4 108.8h.6M408.7 111.1h.6M410.6 97.7h.6M402.3 107.3h.6M404.3 109.3h.6M409.7 104.9h.6M406.6 109.2h.6M408.3 96.4h.6M406.6 101.8h.6M408.3 107h.6M411.4 105.6h.6M409 106.9h.6M408.5 108h.6M409.9 112h.6M413.9 111.2h.6M399.9 107.7h.6M410.6 112h.6M403.8 102.8h.6M403.9 106.6h.6M412.9 106.9h.6M408.6 110.8h.6M405.1 106.5h.6M405.4 104.5h.6M410.4 105.3h.6M408 104.9h.6M406.4 106.1h.6M407.7 98.8h.6M408.5 100.9h.6M411.8 107.4h.6M412.2 96.4h.6M406.1 101.8h.6M410 109.2h.6M407.8 110.2h.6M411 108.1h.6M405.8 108.2h.6M409.2 98.5h.6M412.6 105.7h.6M407 104.6h.6M404.1 99.8h.6M410.7 101.6h.6M407.9 106.8h.6M409.1 95.9h.6M410.1 107.2h.6M409.2 102.6h.6M404.8 105.3h.6M401.7 109.5h.6M410 106.6h.6M402.1 107.4h.6M406.3 105.6h.6M406.2 108.6h.6M405.7 104.1h.6M407.9 107.7h.6M407 107.1h.6M409.9 105.5h.6M404 107.5h.6M402.9 112.1h.6M410.8 99.8h.6M402.9 112.2h.6M410.2 110.1h.6M405.2 109.6h.6M408.5 96.4h.6M409 108.1h.6M412.6 100.9h.6M409.7 107.1h.6M406.9 109h.6M406.4 106.3h.6M400.4 104h.6M407.3 102.5h.6M403.1 104.7h.6M407.5 102.6h.6M407.7 106.1h.6M405.8 103.7h.6M410.3 109.5h.6M406.8 107.5h.6M395.6 109.6h.6M397.3 109.8h.6M392.1 110.7h.6M391.5 106.3h.6M396.8 103h.6M391.9 104.5h.6M393 107.5h.6M394.7 111.1h.6M391.1 104.7h.6M397.5 102.3h.6M394.1 106.2h.6M393.2 106.5h.6M393.3 105.4h.6M390.5 112.1h.6M396.6 110.7h.6M395.6 107h.6M394.8 110.2h.6M393.3 110.6h.6M393.5 106.2h.6M392.9 104.7h.6M391.4 105.8h.6M393.3 108.4h.6" stroke="#333" stroke-width=".6" fill="none" opacity=".62" filter="url(#b1)"/>
<g font-size="2.8" class="s" fill="#808080" text-anchor="middle" filter="url(#b1)"><text x="407.5" y="91.3">5.30%</text><text x="426.8" y="90.5">7.30E-4</text></g>
<g filter="url(#b1)">
<rect x="474.5" y="92.6" width="18.1" height="18.2" fill="none" stroke="#505050" stroke-width=".8"/>
<rect x="496.3" y="92.6" width="14.6" height="18.2" fill="none" stroke="#505050" stroke-width=".8"/>
</g>
<g clip-path="url(#cp6)"><path d="M449.4 113.2V93.4H456.1C459.8 93.4 461.6 96.4 461.6 102.3V113.2Z" fill="#727272" filter="url(#b3)"/></g>
<path d="M456.5 93.2h.6M452 103.7h.6M457.2 111h.6M458.7 104.4h.6M457.5 107.2h.6M461.2 109.2h.6M456.9 104.2h.6M453.4 106.8h.6M455.7 93.9h.6M461.3 103.3h.6M453.8 104.9h.6M455.7 107.9h.6M454.8 106.8h.6M459.7 111h.6M462.7 101.8h.6M452.3 110.2h.6M455.8 104.8h.6M451.6 103.3h.6M458.5 103.7h.6M460.3 110.3h.6M455.7 102.8h.6M454.6 103.4h.6M455.1 104.7h.6M451.9 111h.6M464.7 106.5h.6M454.4 110.6h.6M452.2 103.4h.6M458.1 103.1h.6M456.6 102.6h.6M454.3 105.3h.6M463.7 105.6h.6M451.8 110h.6M457.3 102.9h.6M457.6 109.6h.6M452.6 97.4h.6M454.6 106.1h.6M453.2 98.4h.6M451.5 107.5h.6M460.7 109.1h.6M454.4 104.4h.6M457.2 106h.6M455.2 107.6h.6M455.6 99.5h.6M453.4 110.8h.6M458.1 99.7h.6M454.6 110h.6M462.2 108.1h.6M452 104.1h.6M455.1 98.9h.6M453.4 106.7h.6M451.4 94.5h.6M457 108.5h.6M452.1 108.9h.6M452.2 102.3h.6M451.4 109.5h.6M455 101.4h.6M460.7 109.1h.6M453.7 108.2h.6M457.7 109.9h.6M452.4 108.8h.6M454.2 106h.6M453.4 109.5h.6M456.3 109.6h.6M455.7 110h.6M456.8 108.6h.6M460.5 102.1h.6M459 101.4h.6M455.3 108h.6M452.5 108.5h.6M458.5 110.6h.6M452.7 107.8h.6M455.5 105.4h.6M452.4 105.6h.6M459.2 103.4h.6M457.5 111.1h.6M457.2 101h.6M451.8 103.5h.6M451.5 106.2h.6M454.6 103.3h.6M454.3 98.3h.6M453.2 102.9h.6M454.4 101.3h.6M454.8 110.6h.6M453.4 104.7h.6M453.3 101h.6M451.8 98.9h.6M452.9 104.7h.6M456 108.2h.6M453.1 104.6h.6M453.1 108.2h.6M452.8 101.3h.6M452.4 109.1h.6M460.7 109.7h.6M451.5 95.5h.6M454.6 101.5h.6M459.9 107.1h.6M452.4 109.2h.6M455.4 101.3h.6M457.5 104.3h.6M453.3 94.1h.6M456.3 109.5h.6M453.6 102.8h.6M453.1 99.9h.6M452 98.5h.6M460.8 100.5h.6M460.6 99h.6M454.1 96.8h.6M452.6 107.1h.6M454.1 108.5h.6M452.4 107.5h.6M452.1 106.2h.6M453.2 94.4h.6M463.4 108.6h.6M455.4 100.9h.6M457.4 110.1h.6M454.3 108.4h.6M451.8 106.9h.6M455.3 108.4h.6M454.5 111.2h.6M463.2 101.2h.6M454.5 111.1h.6M461.4 108.4h.6M456.8 111.1h.6M457.6 108.2h.6M454.8 100.8h.6M454.8 101.5h.6M456.7 110.1h.6M452.9 109.9h.6M453.6 106.8h.6M453.5 106.1h.6M454.1 107.3h.6M461.6 101.6h.6M452.2 101h.6M455.8 108.7h.6M457.5 105h.6M457.8 105.3h.6M451.8 108.8h.6M460.5 111.1h.6M451.8 109.8h.6M457.2 109h.6M453.9 106.6h.6M454.5 98.4h.6M453.9 105.2h.6M456.1 95.8h.6M464.9 109.4h.6M458.1 110.5h.6M453.4 110.5h.6M454.2 108.6h.6M453.4 109.5h.6M453.6 95.1h.6M455.9 108.9h.6M460.2 104.9h.6M455.8 106.1h.6M460.8 110.8h.6M453.2 104.1h.6M454.2 107.1h.6M456.1 100.5h.6M460.1 109.7h.6M452.5 109.3h.6M455.2 106.6h.6M452 109.3h.6M456.2 94.8h.6M463.7 102.7h.6M462.5 105.3h.6M457 101.4h.6M459.6 107.3h.6M460 109.6h.6M452.9 110.6h.6M452.1 107.5h.6M454.9 103.2h.6M456.8 107.2h.6M456.5 106.6h.6M459.6 101.7h.6M452 110h.6M455 104.9h.6M457.1 107.9h.6M454.2 99.9h.6M451.6 103h.6M453.5 109.6h.6M457.6 108.1h.6M457.5 94.9h.6M451.6 109.1h.6M462.4 98.8h.6M454.7 106.6h.6M452.6 110.5h.6M459.4 98.8h.6M452.2 106.8h.6M453.6 110.2h.6M452.1 109.1h.6M451.8 106.5h.6M455.3 110.7h.6M453.4 107.1h.6M451.8 104.2h.6M451.7 106.3h.6M461.6 108.3h.6M452.3 94.7h.6M457.3 102.8h.6M455.1 109h.6M455.3 108.3h.6M453.8 109.4h.6M457.3 105.3h.6M454.8 106.8h.6M452.7 101.6h.6M452.9 99.8h.6M455.5 110h.6M455.4 99.6h.6M457.4 106.4h.6M454.8 107.5h.6M451.8 104.3h.6M451.9 100h.6M452.5 104.2h.6M453.5 98.5h.6M457.1 102h.6M454.5 105.4h.6M452.4 108.8h.6M453.4 108.6h.6M454.5 92h.6M461.6 101.7h.6M455.1 106.9h.6M454.3 109.2h.6M455.9 105.4h.6M456.9 108.2h.6M457.3 109h.6M455.1 94.7h.6M458.4 110.3h.6M452.4 105.1h.6M455.3 95.4h.6M452.8 96.8h.6M452.3 98.2h.6M455.8 103h.6M451.8 106.4h.6M451.5 106.5h.6M462.8 107.3h.6M451.6 94.2h.6M452.1 111h.6M455.5 100.4h.6M457.6 110.9h.6M461.1 107.6h.6M455.8 99.1h.6M456.9 111.1h.6M455.2 109h.6M454.1 104.1h.6M452.6 96.4h.6M460.1 96.7h.6M458.6 103.9h.6M454.9 104.1h.6M459.9 106.9h.6M453.2 108.9h.6M454.1 98.6h.6M458.8 97.8h.6M457.2 100.6h.6M451.8 106.9h.6M453.3 108.3h.6M452.7 108.4h.6M452.2 106.7h.6M454.3 106.5h.6M455.7 104.8h.6M462.5 110.7h.6M452.7 103.3h.6M462.8 105.7h.6M452.4 108.4h.6M453.6 106.1h.6M457 108.9h.6M454.4 103.8h.6M452.4 102h.6M451.8 103.7h.6M460.9 98.9h.6M453.4 103.5h.6M454.2 98.9h.6M456.6 105.9h.6M453.7 100.9h.6M460.6 110.6h.6M455.6 99.9h.6M462 95h.6M451.7 96.2h.6M454.9 105h.6M459.4 107.4h.6M451.8 105.2h.6M456.1 106h.6M456.8 109.7h.6M453.3 98.1h.6M457.1 106.6h.6M454.6 104.3h.6M456.4 108.9h.6M452.8 102.3h.6M453 105.9h.6M462.4 103.3h.6M457.1 98.2h.6M453.8 109.1h.6M457.5 104.2h.6M457.2 98h.6M462.8 109.4h.6M461.6 108.1h.6M459.1 102.7h.6M452.4 103h.6M454.7 108.3h.6M453.3 109.6h.6M452 108.2h.6M458.6 103.4h.6M456.8 103.5h.6M452.7 103h.6M455.4 105.5h.6M457.9 93.2h.6M451.9 111h.6M462.6 108.6h.6M459.4 108.4h.6M457.3 101.4h.6M460.7 108.6h.6M452.5 98.3h.6M458.8 109.6h.6M458.1 110.2h.6M453.1 96.6h.6M452.1 103.5h.6M452.9 108.6h.6M451.7 97.4h.6M456.2 105.8h.6M452 105h.6M455.3 111h.6M459.6 97.1h.6M458.5 100.4h.6M461.7 98.9h.6M453 110.1h.6M456.5 103.1h.6M453 110.2h.6M457.4 96.3h.6M454.1 106.7h.6M451.7 105.2h.6M452.3 106.7h.6M459.8 103.8h.6M454 110.2h.6M452.7 104.2h.6M458.4 104.7h.6M453.2 105.5h.6M455.6 109.6h.6M453.4 102.1h.6M452.2 104.2h.6M458.2 108.5h.6M454.5 101.5h.6M457.4 110.6h.6M453.8 109.7h.6M456.9 108.8h.6M458.3 92.4h.6M454.5 101.9h.6M460.2 100.2h.6M456.8 104.2h.6M453.9 101.4h.6M459.1 110.2h.6M454.2 108.5h.6M456.8 104.8h.6M458.3 110.6h.6M453.3 105.2h.6M456.8 103.9h.6M452.5 110.7h.6M457.1 110.8h.6M456.8 101.8h.6M462 107.3h.6M457.4 97.6h.6M452 96.1h.6M460.1 102.4h.6M455.4 105.3h.6M453.9 104.3h.6M461.1 110.1h.6M451.7 110h.6M451.9 104.3h.6M455.2 98.6h.6M451.5 107.2h.6M452.3 107.8h.6M454.8 105.8h.6M453 109.4h.6M458.7 101h.6M463.6 102.8h.6M455.6 107.3h.6M455.3 109.1h.6M452 106.2h.6M451.5 107.4h.6M462.9 109.5h.6M451.7 108.7h.6M461.3 111.2h.6M453.2 106.5h.6M460.7 103.7h.6M453.6 103h.6M458.3 106.3h.6M455.2 108.8h.6M457.9 108.1h.6M451.6 100.4h.6M457.4 105.4h.6M454 106.9h.6M454 106h.6M454.5 102.4h.6M455.9 99.8h.6M462.9 101.7h.6M454.8 110.6h.6M458.3 97.7h.6M451.6 104.3h.6M451.5 95.1h.6M453.9 109.9h.6M452.5 104.7h.6M456.1 101.3h.6M453.2 98.9h.6M455.2 102.4h.6M453.4 106h.6M460.8 101.2h.6M452.6 106.5h.6M460.3 106.2h.6M452.9 108.9h.6M456.1 100.3h.6M454.4 109.9h.6M452.2 98.6h.6M453.8 110.4h.6M454.1 103.2h.6M453 109.1h.6M457.1 100.1h.6M455.6 107.7h.6M458.8 110h.6M454.5 102.7h.6M452.2 102.1h.6M453.7 108.6h.6M451.8 92.9h.6M455.8 107.2h.6M457.1 110.3h.6" stroke="#333" stroke-width=".6" fill="none" opacity=".6" filter="url(#b1)"/>
<g font-size="3.3" font-weight="700" class="s" fill="#222" text-anchor="middle" filter="url(#b1)"><text x="485" y="89.9">0.00%</text><text x="504" y="89.9">0.00%</text></g>
<path d="M14.6 123H512.5" stroke="#555" stroke-width="1.6" fill="none"/>
<path d="M506.6 119.0L513.3 123L506.6 127.3" stroke="#555" stroke-width="1.5" fill="none"/>
<g font-weight="700" class="s" stroke="#000" stroke-width=".3"><text y="139.5" font-size="13.2"><tspan x="212.0" textLength="24.4" lengthAdjust="spacingAndGlyphs">GFP</tspan><tspan x="236.8" dy="-5.2" font-size="9" textLength="21" lengthAdjust="spacingAndGlyphs">(low)</tspan><tspan x="270.4" dy="5.2" textLength="29" lengthAdjust="spacingAndGlyphs">CFSE</tspan><tspan x="299.8" dy="-5.2" font-size="9" textLength="24" lengthAdjust="spacingAndGlyphs">(high)</tspan></text><text transform="translate(260.6 140.6) skewX(-9)" font-size="16.5" stroke-width=".15">/</text></g>
</g>
<g><text x="1.9" y="179.8" font-size="18.6" font-weight="700" class="s" textLength="14.4" lengthAdjust="spacingAndGlyphs">B</text><path d="M61 202.8V358.9H218.3" stroke="#000" stroke-width="1.8" fill="none" stroke-linecap="butt"/><text x="54.7" y="362.9" font-size="12" class="s" text-anchor="end">0.0</text><text x="54.7" y="331.8" font-size="12" class="s" text-anchor="end">0.2</text><text x="54.7" y="300.7" font-size="12" class="s" text-anchor="end">0.4</text><text x="54.7" y="269.6" font-size="12" class="s" text-anchor="end">0.6</text><text x="54.7" y="238.5" font-size="12" class="s" text-anchor="end">0.8</text><text x="54.7" y="207.4" font-size="12" class="s" text-anchor="end">1.0</text><text x="61" y="376.8" font-size="12" class="s" text-anchor="middle">0</text><text x="92.3" y="376.8" font-size="12" class="s" text-anchor="middle">100</text><text x="123.6" y="376.8" font-size="12" class="s" text-anchor="middle">200</text><text x="154.9" y="376.8" font-size="12" class="s" text-anchor="middle">300</text><text x="186.2" y="376.8" font-size="12" class="s" text-anchor="middle">400</text><text x="217.5" y="376.8" font-size="12" class="s" text-anchor="middle">500</text><path d="M61 358.9h-4.9M61 327.8h-4.9M61 296.7h-4.9M61 265.6h-4.9M61 234.5h-4.9M61 203.4h-4.9M61 358.9v4.7M92.3 358.9v4.7M123.6 358.9v4.7M154.9 358.9v4.7M186.2 358.9v4.7M217.5 358.9v4.7" stroke="#000" stroke-width="1.6" fill="none"/><text y="395.8" font-size="15" font-weight="700" class="s"><tspan x="40.6">Time</tspan><tspan x="78.3">after</tspan><tspan x="115.4">transfusion</tspan><tspan x="202.5">(min)</tspan></text><text transform="translate(28.7 357.1) rotate(-90)" font-size="15.2" font-weight="700" class="s"><tspan x="0" letter-spacing=".2">Transfusion</tspan><tspan x="92">cells</tspan><tspan x="129.6">(%)</tspan></text><polyline points="64.1,338.7 67.3,354.2 73.5,357 79.8,357.8 98.6,358.3 211.2,358.6" fill="none" stroke="#000" stroke-width="1.2"/><path d="M64.1 329.4V348M60.5 329.4h7.2M60.5 348h7.2" stroke="#000" stroke-width="1.2" fill="none"/><circle cx="64.1" cy="338.7" r="2.9" fill="#fff" stroke="#000" stroke-width="1.15"/><circle cx="67.3" cy="354.2" r="2.9" fill="#fff" stroke="#000" stroke-width="1.15"/><circle cx="73.5" cy="357" r="2.9" fill="#fff" stroke="#000" stroke-width="1.15"/><circle cx="79.8" cy="357.8" r="2.9" fill="#fff" stroke="#000" stroke-width="1.15"/><circle cx="98.6" cy="358.3" r="2.9" fill="#fff" stroke="#000" stroke-width="1.15"/><circle cx="211.2" cy="358.6" r="2.9" fill="#fff" stroke="#000" stroke-width="1.15"/><polyline points="64.1,220.5 67.3,233.7 73.5,232.9 79.8,238.4 98.6,248.5 211.2,311.5" fill="none" stroke="#000" stroke-width="1.2"/><path d="M64.1 212.7V228.3M60.5 212.7h7.2M60.5 228.3h7.2M67.3 229.1V238.4M63.7 229.1h7.2M63.7 238.4h7.2M73.5 230.6V235.3M69.9 230.6h7.2M69.9 235.3h7.2M79.8 235.9V240.9M76.2 235.9h7.2M76.2 240.9h7.2M98.6 243.8V253.2M95 243.8h7.2M95 253.2h7.2M211.2 308.1V314.9M207.6 308.1h7.2M207.6 314.9h7.2" stroke="#000" stroke-width="1.2" fill="none"/><circle cx="64.1" cy="220.5" r="2.9" fill="#000" stroke="#000" stroke-width="1.15"/><circle cx="67.3" cy="233.7" r="2.9" fill="#000" stroke="#000" stroke-width="1.15"/><circle cx="73.5" cy="232.9" r="2.9" fill="#000" stroke="#000" stroke-width="1.15"/><circle cx="79.8" cy="238.4" r="2.9" fill="#000" stroke="#000" stroke-width="1.15"/><circle cx="98.6" cy="248.5" r="2.9" fill="#000" stroke="#000" stroke-width="1.15"/><circle cx="211.2" cy="311.5" r="2.9" fill="#000" stroke="#000" stroke-width="1.15"/><path d="M107.6 208.3h17" stroke="#000" stroke-width="1.1"/><circle cx="116.1" cy="208.3" r="2.9" fill="#fff" stroke="#000" stroke-width="1.15"/><text x="134" y="213" font-size="12.6" class="s">Human RBC</text><path d="M107.6 226.6h17" stroke="#000" stroke-width="1.1"/><circle cx="116.1" cy="226.6" r="2.9" fill="#000" stroke="#000" stroke-width="1.15"/><text x="134" y="231.3" font-size="12.6" class="s">CD47KO RBC</text></g>
<g><text x="263.2" y="181.4" font-size="20.4" font-weight="700" class="s" textLength="15.2" lengthAdjust="spacingAndGlyphs">C</text><path d="M323 201.5V358.1H479.8" stroke="#000" stroke-width="1.8" fill="none" stroke-linecap="butt"/><text x="317.4" y="362.1" font-size="12" class="s" text-anchor="end">0</text><text x="317.4" y="332.4" font-size="12" class="s" text-anchor="end">20</text><text x="317.4" y="302.7" font-size="12" class="s" text-anchor="end">40</text><text x="317.4" y="272.9" font-size="12" class="s" text-anchor="end">60</text><text x="317.4" y="243.2" font-size="12" class="s" text-anchor="end">80</text><text x="317.4" y="213.5" font-size="12" class="s" text-anchor="end">100</text><text x="323" y="376" font-size="12" class="s" text-anchor="middle">0</text><text x="354.2" y="376" font-size="12" class="s" text-anchor="middle">100</text><text x="385.4" y="376" font-size="12" class="s" text-anchor="middle">200</text><text x="416.6" y="376" font-size="12" class="s" text-anchor="middle">300</text><text x="447.8" y="376" font-size="12" class="s" text-anchor="middle">400</text><text x="479" y="376" font-size="12" class="s" text-anchor="middle">500</text><path d="M323 358.1h-4.9M323 328.4h-4.9M323 298.7h-4.9M323 268.9h-4.9M323 239.2h-4.9M323 209.5h-4.9M323 358.1v4.7M354.2 358.1v4.7M385.4 358.1v4.7M416.6 358.1v4.7M447.8 358.1v4.7M479 358.1v4.7" stroke="#000" stroke-width="1.6" fill="none"/><text y="395.7" font-size="15" font-weight="700" class="s"><tspan x="303.1">Time</tspan><tspan x="340.8">after</tspan><tspan x="377.9">transfusion</tspan><tspan x="465">(min)</tspan></text><text transform="translate(288.3 345) rotate(-90)" font-size="15.2" font-weight="700" class="s"><tspan x="0">Clearance</tspan><tspan x="75.5">rate</tspan><tspan x="107.6">(%)</tspan></text><polyline points="326.1,209.5 329.2,297.6 335.5,333.6 341.7,344.3 360.4,352.2 472.8,356.3" fill="none" stroke="#000" stroke-width="1.2"/><path d="M329.2 284.7V310.5M325.6 284.7h7.2M325.6 310.5h7.2M335.5 323.6V343.5M331.9 323.6h7.2M331.9 343.5h7.2M341.7 338.3V350.2M338.1 338.3h7.2M338.1 350.2h7.2M360.4 350.7V353.6M356.8 350.7h7.2M356.8 353.6h7.2M472.8 355.4V357.2M469.2 355.4h7.2M469.2 357.2h7.2" stroke="#000" stroke-width="1.2" fill="none"/><circle cx="326.1" cy="209.5" r="2.9" fill="#fff" stroke="#000" stroke-width="1.15"/><circle cx="329.2" cy="297.6" r="2.9" fill="#fff" stroke="#000" stroke-width="1.15"/><circle cx="335.5" cy="333.6" r="2.9" fill="#fff" stroke="#000" stroke-width="1.15"/><circle cx="341.7" cy="344.3" r="2.9" fill="#fff" stroke="#000" stroke-width="1.15"/><circle cx="360.4" cy="352.2" r="2.9" fill="#fff" stroke="#000" stroke-width="1.15"/><circle cx="472.8" cy="356.3" r="2.9" fill="#fff" stroke="#000" stroke-width="1.15"/><polyline points="326.1,209.5 329.2,221.4 335.5,220.6 341.7,226.3 360.4,236.2 472.8,305.5" fill="none" stroke="#000" stroke-width="1.2"/><path d="M329.2 214V228.8M325.6 214h7.2M325.6 228.8h7.2M335.5 213.2V228.1M331.9 213.2h7.2M331.9 228.1h7.2M341.7 218.9V233.7M338.1 218.9h7.2M338.1 233.7h7.2M360.4 227.9V244.6M356.8 227.9h7.2M356.8 244.6h7.2M472.8 301.8V309.2M469.2 301.8h7.2M469.2 309.2h7.2" stroke="#000" stroke-width="1.2" fill="none"/><circle cx="326.1" cy="209.5" r="2.9" fill="#000" stroke="#000" stroke-width="1.15"/><circle cx="329.2" cy="221.4" r="2.9" fill="#000" stroke="#000" stroke-width="1.15"/><circle cx="335.5" cy="220.6" r="2.9" fill="#000" stroke="#000" stroke-width="1.15"/><circle cx="341.7" cy="226.3" r="2.9" fill="#000" stroke="#000" stroke-width="1.15"/><circle cx="360.4" cy="236.2" r="2.9" fill="#000" stroke="#000" stroke-width="1.15"/><circle cx="472.8" cy="305.5" r="2.9" fill="#000" stroke="#000" stroke-width="1.15"/><path d="M374 212h17" stroke="#000" stroke-width="1.1"/><circle cx="382.5" cy="212" r="2.9" fill="#fff" stroke="#000" stroke-width="1.15"/><text x="401" y="216.7" font-size="12.6" class="s">Human RBC</text><path d="M374 230h17" stroke="#000" stroke-width="1.1"/><circle cx="382.5" cy="230" r="2.9" fill="#000" stroke="#000" stroke-width="1.15"/><text x="401" y="234.7" font-size="12.6" class="s">CD47KO RBC</text></g>
</svg>
</body></html>
